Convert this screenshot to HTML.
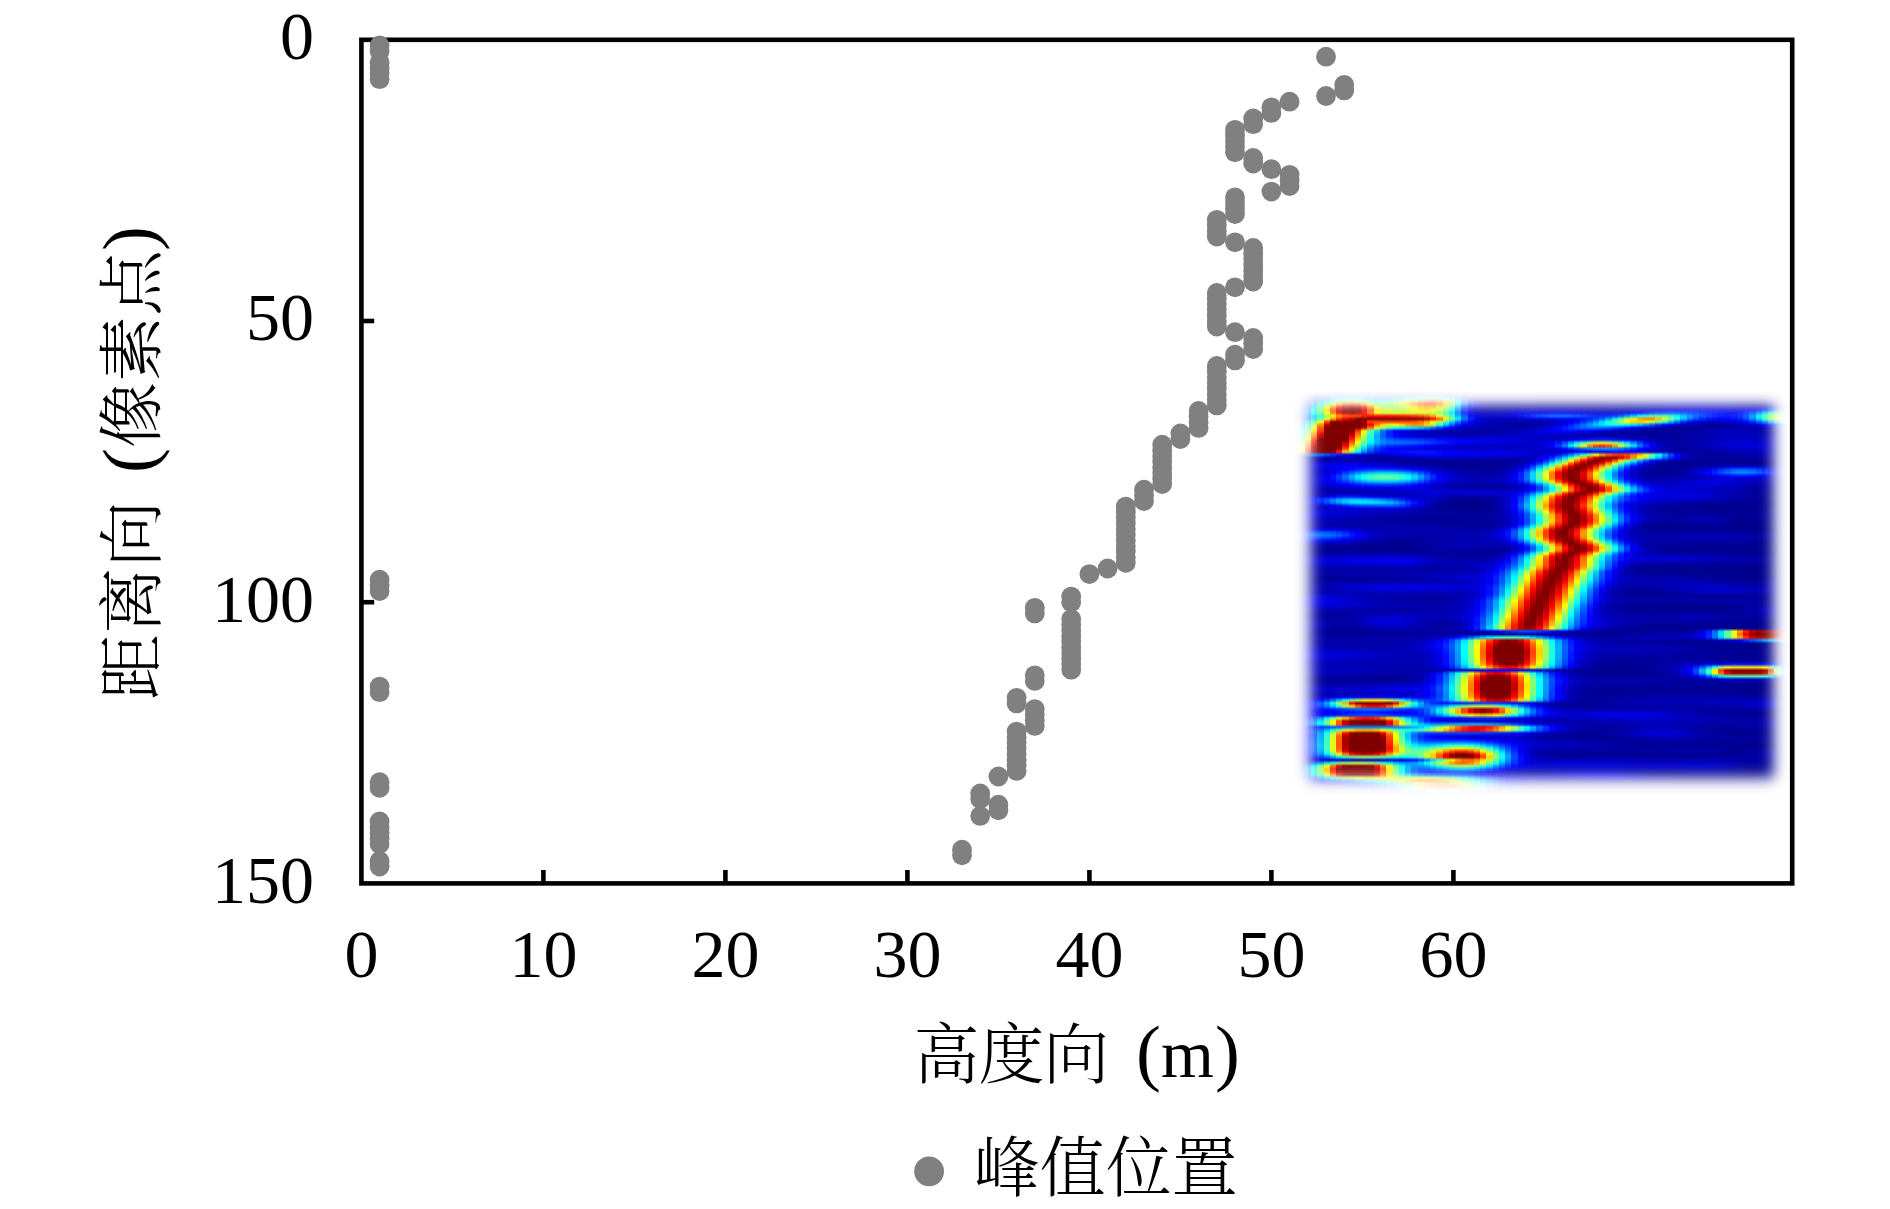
<!DOCTYPE html>
<html lang="zh"><head><meta charset="utf-8"><title>峰值位置</title>
<style>
html,body{margin:0;padding:0;background:#fff}
body{width:1890px;height:1209px;position:relative;overflow:hidden}
svg{position:absolute;left:0;top:0;display:block}
.num{font-family:"Liberation Serif",serif;font-size:68px;fill:#000}
.cjk{font-family:"Liberation Serif","Noto Serif CJK SC",serif;font-size:66px;font-weight:300;fill:#000}
#inset{position:absolute;overflow:hidden}#inset i,#inset b{position:absolute;display:block}#inset i{top:1px;height:404px}
</style></head><body>
<div id="inset" style="left:1293px;top:391px;width:497px;height:405px">
<i style="left:0px;width:12px;background:linear-gradient(#0000a2,#0000be,#0000d0,#0000e6,#0006ff,#002aff,#004eff,#005dff,#0049ff,#003cff,#006fff,#00a1ff,#00ceff,#00edff,#15ffea,#3fffc0,#6dff92,#a1ff5e,#ceff31,#f8ff07,#ffca00,#0048ff,#000099,#0000a1,#0000bc,#0000c8,#0000b8,#0000b4,#0000bb,#0000be,#0000bf,#0000c1,#0000b9,#0000a6,#00009e,#0000b5,#0000da,#0000d4,#0000b0,#0000b1,#0000d7,#0000d8,#0000cb,#0000c5,#0000b5,#0000ac,#0000cb,#0016ff,#0039ff,#0017ff,#0000da,#0000a6,#000090,#000090,#000099,#0000ad,#0000c1,#0000c5,#0000b6,#0000a4,#00009f,#00009e,#000095,#000094,#00009f,#0000a5,#00009d,#00009e,#0000be,#0000d0,#0000d9,#0000dd,#0000c6,#0000ab,#00009b,#00009a,#0000a9,#0000ba,#0000bc,#0000b7,#0000a9,#00009a,#0000a4,#0000ad,#0000af,#0000bb,#0000ca,#0000d8,#0000dd,#0000d6,#0000c5,#0000b7,#0000b6,#0000bb,#0000bb,#0000aa,#000097,#000098,#0000ab,#0000c1,#0000bb,#0000a6,#0000a8,#0000c6,#0000e9,#0000f4,#0000e7,#0000d7,#0000ce,#0000ed,#000aff,#0020ff,#0000f9,#0003ff,#0000f3,#0000ed,#0000f6,#0003ff,#0009ff,#0004ff,#0000fd,#0000ed,#0000df,#0000b9,#0000f8,#003cff,#0054ff,#0039ff,#0024ff,#0000fe,#0000dd,#0000bb,#0000b6,#0000ba,#0000c0,#0000bb)"></i>
<i style="left:12px;width:6px;background:linear-gradient(#0000a8,#0000cb,#0000e9,#0010ff,#0042ff,#0073ff,#009aff,#00a3ff,#0082ff,#007dff,#00d1ff,#17ffe8,#4effb1,#74ff8b,#abff54,#e3ff1c,#ffe300,#ffa900,#ff7600,#ff4700,#ff1a00,#0061ff,#00009d,#0000a5,#0000c5,#0000d1,#0000bd,#0000ba,#0000c2,#0000c5,#0000c5,#0000c5,#0000bb,#0000a8,#0000a0,#0000bf,#0000ee,#0000e5,#0000b7,#0000b4,#0000db,#0000d9,#0000ca,#0000c3,#0000b3,#0000ae,#0000d6,#0032ff,#0054ff,#0023ff,#0000dd,#0000a7,#000091,#000090,#00009b,#0000b1,#0000c7,#0000ca,#0000b9,#0000a5,#0000a1,#0000a1,#000097,#000095,#0000a2,#0000a9,#0000a0,#0000a1,#0000c6,#0000d9,#0000dd,#0000de,#0000c8,#0000ab,#00009b,#00009a,#0000a9,#0000b9,#0000bc,#0000b9,#0000aa,#00009b,#0000a5,#0000ad,#0000ad,#0000b8,#0000c8,#0000d7,#0000dd,#0000d5,#0000c4,#0000b7,#0000b7,#0000bd,#0000bc,#0000ab,#000097,#000099,#0000ad,#0000c3,#0000bd,#0000a9,#0000ae,#0000d5,#0002ff,#0008ff,#0000f1,#0000df,#0000d8,#0013ff,#003bff,#0050ff,#0008ff,#001cff,#0016ff,#0012ff,#001aff,#0025ff,#002bff,#0027ff,#0020ff,#000cff,#0000f2,#0000bc,#0022ff,#008aff,#00a9ff,#008eff,#006dff,#0020ff,#0000e8,#0000c1,#0000ba,#0000bc,#0000c0,#0000bb)"></i>
<i style="left:18px;width:6px;background:linear-gradient(#0000af,#0000db,#000cff,#0049ff,#0093ff,#00d8ff,#04fffb,#02fffd,#00ceff,#00d9ff,#5cffa3,#b6ff49,#f5ff0a,#ffe200,#ffa100,#ff6300,#ff2900,#f00000,#c10000,#980000,#880000,#006bff,#0000a0,#0000a9,#0000cd,#0000da,#0000c4,#0000c1,#0000cc,#0000cf,#0000cc,#0000c9,#0000bd,#0000a9,#0000a4,#0000ce,#000bff,#0000fd,#0000c0,#0000b7,#0000de,#0000da,#0000c8,#0000c0,#0000b1,#0000b0,#0000e1,#0049ff,#006aff,#002cff,#0000df,#0000a7,#000091,#000091,#00009d,#0000b5,#0000cc,#0000ce,#0000bb,#0000a7,#0000a3,#0000a4,#000099,#000096,#0000a5,#0000ae,#0000a4,#0000a5,#0000cd,#0000df,#0000df,#0000df,#0000c8,#0000ab,#00009c,#00009b,#0000a7,#0000b6,#0000b9,#0000b6,#0000a8,#00009b,#0000a5,#0000ad,#0000ab,#0000b5,#0000c6,#0000d7,#0000dc,#0000d4,#0000c3,#0000b7,#0000b8,#0000be,#0000bc,#0000aa,#000098,#00009a,#0000af,#0000c6,#0000bf,#0000ab,#0000b5,#0000ea,#0024ff,#0022ff,#0000fc,#0000e6,#0000e2,#0048ff,#0084ff,#0096ff,#0018ff,#0041ff,#004dff,#004dff,#0054ff,#005dff,#0064ff,#0062ff,#0059ff,#003cff,#000fff,#0000be,#0057ff,#00f1ff,#1affe5,#01fffe,#00d3ff,#0050ff,#0000f6,#0000c8,#0000be,#0000bd,#0000c0,#0000bb)"></i>
<i style="left:24px;width:7px;background:linear-gradient(#0000b8,#0000f0,#0036ff,#0091ff,#00faff,#57ffa8,#87ff78,#77ff88,#2dffd2,#51ffae,#fff600,#ff8600,#ff4600,#ff2b00,#ea0000,#b00000,#800000,#800000,#800000,#800000,#800000,#0066ff,#0000a4,#0000ab,#0000d5,#0000e3,#0000cc,#0000cc,#0000da,#0000dd,#0000d6,#0000ce,#0000be,#0000aa,#0000a8,#0000df,#002eff,#001eff,#0000cd,#0000b9,#0000e0,#0000d9,#0000c4,#0000bc,#0000af,#0000b0,#0000e7,#0057ff,#0077ff,#002fff,#0000df,#0000a7,#000091,#000091,#00009f,#0000ba,#0000d2,#0000d3,#0000bd,#0000a7,#0000a5,#0000a6,#00009a,#000097,#0000a8,#0000b2,#0000a9,#0000a8,#0000d1,#0000e1,#0000df,#0000df,#0000c7,#0000ab,#00009c,#00009b,#0000a5,#0000b1,#0000b2,#0000af,#0000a4,#00009a,#0000a6,#0000ad,#0000a9,#0000b2,#0000c4,#0000d5,#0000db,#0000d2,#0000c2,#0000b7,#0000b8,#0000be,#0000bc,#0000aa,#000098,#00009a,#0000b1,#0000c8,#0000c1,#0000ae,#0000bd,#0009ff,#0059ff,#0048ff,#0008ff,#0000ee,#0000ee,#0092ff,#00e8ff,#00f6ff,#002bff,#0076ff,#00a2ff,#00acff,#00b1ff,#00b8ff,#00c0ff,#00beff,#00b3ff,#0086ff,#0036ff,#0000bf,#0098ff,#72ff8d,#a4ff5b,#8fff70,#53ffac,#008dff,#0008ff,#0000d1,#0000c2,#0000be,#0000bf,#0000ba)"></i>
<i style="left:31px;width:6px;background:linear-gradient(#0000c3,#0008ff,#0066ff,#00e2ff,#71ff8e,#e8ff17,#ffe200,#fcff03,#97ff68,#d9ff26,#ff3600,#b70000,#810000,#800000,#800000,#800000,#800000,#800000,#800000,#800000,#800000,#0053ff,#0000a9,#0000ae,#0000db,#0000ec,#0000d5,#0000db,#0000ef,#0000f1,#0000e4,#0000d4,#0000c1,#0000ac,#0000ad,#0000f3,#0058ff,#0046ff,#0000de,#0000bc,#0000e1,#0000d7,#0000c0,#0000b8,#0000ad,#0000b0,#0000e9,#005aff,#0077ff,#002dff,#0000dc,#0000a7,#000091,#000092,#0000a1,#0000be,#0000d7,#0000d6,#0000bf,#0000a8,#0000a6,#0000a8,#00009a,#000098,#0000ab,#0000b8,#0000ae,#0000ac,#0000d2,#0000df,#0000de,#0000dd,#0000c6,#0000aa,#00009c,#00009c,#0000a3,#0000ac,#0000ab,#0000a7,#00009e,#000099,#0000a6,#0000ac,#0000a7,#0000af,#0000c2,#0000d4,#0000d9,#0000d0,#0000c0,#0000b6,#0000b9,#0000be,#0000bb,#0000a9,#000098,#00009b,#0000b2,#0000c9,#0000c3,#0000b1,#0000c5,#0034ff,#00a7ff,#007fff,#0015ff,#0000f5,#0000fc,#00efff,#6bff94,#73ff8c,#003fff,#00bfff,#1cffe3,#34ffcb,#39ffc6,#3effc1,#44ffbb,#43ffbc,#34ffcb,#00f0ff,#006aff,#0000c0,#00dfff,#fffc00,#ffbe00,#ffce00,#e4ff1b,#00d4ff,#001cff,#0000da,#0000c6,#0000bf,#0000be,#0000b9)"></i>
<i style="left:37px;width:6px;background:linear-gradient(#0000cd,#001fff,#0097ff,#36ffc9,#e9ff16,#ff8200,#ff4a00,#ff7b00,#fffc00,#ff9d00,#800000,#800000,#800000,#800000,#800000,#800000,#800000,#800000,#800000,#800000,#8b0000,#0037ff,#0000b0,#0000af,#0000e0,#0000f4,#0000e1,#0000f1,#000fff,#0010ff,#0000f8,#0000dd,#0000c3,#0000ad,#0000b0,#0005ff,#0083ff,#0073ff,#0000f1,#0000c0,#0000e0,#0000d5,#0000bc,#0000b4,#0000aa,#0000b0,#0000e7,#0051ff,#006cff,#0024ff,#0000d8,#0000a5,#000091,#000093,#0000a3,#0000c1,#0000db,#0000da,#0000c0,#0000a8,#0000a7,#0000a9,#00009a,#000099,#0000ae,#0000bd,#0000b3,#0000ae,#0000cf,#0000da,#0000db,#0000db,#0000c4,#0000a9,#00009d,#00009d,#0000a2,#0000a8,#0000a5,#0000a0,#000099,#000098,#0000a6,#0000ac,#0000a6,#0000ad,#0000bf,#0000d2,#0000d7,#0000cd,#0000bf,#0000b6,#0000b9,#0000be,#0000ba,#0000a9,#000098,#00009c,#0000b3,#0000cb,#0000c4,#0000b4,#0000cf,#006eff,#17ffe8,#00ccff,#0024ff,#0000fd,#000bff,#5dffa2,#fffb00,#fffa00,#0054ff,#1affe5,#b3ff4c,#deff21,#e4ff1b,#e7ff18,#ecff13,#eaff15,#d5ff2a,#76ff89,#00aaff,#0000bf,#28ffd7,#ff6b00,#ff2000,#ff2c00,#ff8600,#20ffdf,#0033ff,#0000e5,#0000ca,#0000c0,#0000bd,#0000b7)"></i>
<i style="left:43px;width:6px;background:linear-gradient(#0000d6,#0034ff,#00c1ff,#7eff81,#ffac00,#ff0100,#c40000,#ff0600,#ff9f00,#ff2f00,#800000,#800000,#800000,#800000,#800000,#800000,#800000,#800000,#800000,#9f0000,#ff1d00,#0018ff,#0000b8,#0000b1,#0000e2,#0000f9,#0000ef,#000fff,#0039ff,#0039ff,#0013ff,#0000e8,#0000c7,#0000af,#0000b3,#0012ff,#00a8ff,#009eff,#0008ff,#0000c3,#0000df,#0000d1,#0000b8,#0000b0,#0000a8,#0000af,#0000e0,#003fff,#0057ff,#0016ff,#0000d1,#0000a3,#000091,#000093,#0000a5,#0000c5,#0000df,#0000dc,#0000c1,#0000a8,#0000a7,#0000a9,#00009a,#00009a,#0000b1,#0000c2,#0000b9,#0000b1,#0000cb,#0000d2,#0000d6,#0000d7,#0000c1,#0000a8,#00009e,#0000a0,#0000a3,#0000a6,#0000a2,#00009c,#000097,#000097,#0000a7,#0000ac,#0000a5,#0000ac,#0000be,#0000d1,#0000d5,#0000cb,#0000bd,#0000b5,#0000b8,#0000bd,#0000b9,#0000a7,#000097,#00009c,#0000b4,#0000cb,#0000c5,#0000b7,#0000d9,#00b7ff,#a6ff59,#32ffcd,#0034ff,#0005ff,#001aff,#d2ff2d,#ff5700,#ff5e00,#0066ff,#7bff84,#ffa500,#ff6500,#ff5c00,#ff5b00,#ff5a00,#ff5d00,#ff7800,#fff700,#00efff,#0000bc,#69ff96,#e70000,#910000,#990000,#ff0100,#68ff97,#004dff,#0000f1,#0000cf,#0000c1,#0000bc,#0000b5)"></i>
<i style="left:49px;width:7px;background:linear-gradient(#0000dc,#0041ff,#00deff,#b0ff4f,#ff6300,#a70000,#800000,#b50000,#ff5e00,#f20000,#800000,#800000,#800000,#800000,#800000,#800000,#830000,#ba0000,#fe0000,#ff4d00,#ffcc00,#0000f9,#0000be,#0000b1,#0000e3,#0000fe,#0000ff,#0034ff,#006eff,#006bff,#0033ff,#0000f6,#0000cb,#0000b1,#0000b4,#0018ff,#00c2ff,#00c4ff,#001dff,#0000c7,#0000dc,#0000cd,#0000b4,#0000ad,#0000a7,#0000ae,#0000d7,#0026ff,#003bff,#0005ff,#0000c9,#0000a1,#000091,#000093,#0000a6,#0000c7,#0000e2,#0000de,#0000c1,#0000a7,#0000a7,#0000aa,#00009a,#00009b,#0000b4,#0000c8,#0000be,#0000b4,#0000c6,#0000ca,#0000d1,#0000d3,#0000be,#0000a7,#0000a0,#0000a3,#0000a6,#0000a7,#0000a1,#00009a,#000096,#000097,#0000a7,#0000ac,#0000a4,#0000aa,#0000bc,#0000cf,#0000d3,#0000c9,#0000bc,#0000b5,#0000b8,#0000bc,#0000b7,#0000a6,#000097,#00009d,#0000b5,#0000cc,#0000c5,#0000b9,#0000e3,#0dfff2,#ffb000,#a9ff56,#0047ff,#000cff,#002aff,#ffbe00,#bb0000,#c80000,#0073ff,#d5ff2a,#ff0b00,#b60000,#aa0000,#ab0000,#ac0000,#b10000,#d20000,#ff7000,#30ffcf,#0000ba,#99ff66,#850000,#800000,#800000,#990000,#a6ff59,#0069ff,#0000fe,#0000d4,#0000c3,#0000bb,#0000b3)"></i>
<i style="left:56px;width:6px;background:linear-gradient(#0000dd,#0046ff,#00e8ff,#c2ff3d,#ff4900,#870000,#800000,#990000,#ff4600,#bf0000,#800000,#800000,#800000,#880000,#ba0000,#f00000,#ff2900,#ff6400,#ffb200,#f8ff07,#86ff79,#0000e0,#0000c0,#0000b1,#0000e1,#0001ff,#0011ff,#005cff,#00a9ff,#00a3ff,#0057ff,#0007ff,#0000cf,#0000b3,#0000b4,#0018ff,#00cdff,#00deff,#002fff,#0000ca,#0000d9,#0000c9,#0000b0,#0000aa,#0000a6,#0000ad,#0000cd,#000bff,#001cff,#0000f1,#0000c0,#00009e,#000090,#000094,#0000a7,#0000c9,#0000e4,#0000e0,#0000c1,#0000a7,#0000a7,#0000aa,#00009a,#00009b,#0000b7,#0000cd,#0000c4,#0000b6,#0000c1,#0000c3,#0000cc,#0000cf,#0000bb,#0000a6,#0000a2,#0000a9,#0000ad,#0000ac,#0000a4,#00009c,#000096,#000098,#0000a7,#0000ac,#0000a4,#0000aa,#0000ba,#0000cc,#0000d0,#0000c6,#0000ba,#0000b4,#0000b7,#0000bb,#0000b6,#0000a5,#000097,#00009d,#0000b6,#0000cc,#0000c6,#0000bb,#0000ed,#65ff9a,#ff0200,#ffd900,#0058ff,#0013ff,#0038ff,#ff6300,#800000,#800000,#007cff,#ffe400,#930000,#800000,#800000,#800000,#800000,#800000,#800000,#ff0800,#60ff9f,#0000b7,#b6ff49,#800000,#800000,#800000,#800000,#d6ff29,#0088ff,#0010ff,#0000db,#0000c6,#0000bb,#0000b1)"></i>
<i style="left:62px;width:6px;background:linear-gradient(#0000db,#0040ff,#00deff,#b1ff4e,#ff6200,#a60000,#800000,#b50000,#ff3e00,#800000,#800000,#800000,#800000,#ff3700,#ff6f00,#ffa500,#ffd800,#f1ff0e,#a2ff5d,#50ffaf,#00f4ff,#0000cc,#0000bc,#0000ae,#0000dc,#0001ff,#0022ff,#0084ff,#00e4ff,#00dbff,#007aff,#0016ff,#0000d4,#0000b6,#0000b3,#0012ff,#00ccff,#00ebff,#003dff,#0000cd,#0000d5,#0000c4,#0000ac,#0000a8,#0000a5,#0000ac,#0000c4,#0000f0,#0000fe,#0000de,#0000b8,#00009b,#000090,#000094,#0000a7,#0000ca,#0000e6,#0000e0,#0000c1,#0000a6,#0000a6,#0000aa,#000099,#00009c,#0000ba,#0000d3,#0000ca,#0000b8,#0000bc,#0000bc,#0000c7,#0000ca,#0000b8,#0000a5,#0000a4,#0000af,#0000b5,#0000b4,#0000aa,#00009f,#000098,#000098,#0000a7,#0000ac,#0000a4,#0000a9,#0000b9,#0000ca,#0000cd,#0000c4,#0000b9,#0000b4,#0000b6,#0000b9,#0000b3,#0000a3,#000096,#00009d,#0000b7,#0000cd,#0000c7,#0000bd,#0000f6,#b2ff4d,#800000,#ff6900,#0067ff,#0018ff,#0043ff,#ff2700,#800000,#800000,#007fff,#ffbb00,#800000,#800000,#800000,#800000,#800000,#800000,#800000,#cb0000,#7eff81,#0000b5,#beff41,#800000,#800000,#800000,#800000,#f8ff07,#00abff,#0023ff,#0000e4,#0000cb,#0000bb,#0000af)"></i>
<i style="left:68px;width:6px;background:linear-gradient(#0000d4,#0031ff,#00c2ff,#81ff7e,#ffa900,#ff0000,#c40000,#ff0600,#ff1600,#800000,#a80000,#800000,#d50000,#fff300,#d8ff27,#aaff55,#89ff76,#62ff9d,#15ffea,#00caff,#0089ff,#0000be,#0000b4,#0000ab,#0000d7,#0000fd,#002fff,#00a7ff,#19ffe6,#0efff1,#0099ff,#0024ff,#0000d9,#0000b9,#0000b2,#0008ff,#00bfff,#00eeff,#0048ff,#0000cf,#0000d1,#0000c0,#0000a9,#0000a6,#0000a5,#0000ab,#0000bd,#0000db,#0000e4,#0000ce,#0000b0,#000098,#00008f,#000094,#0000a8,#0000cb,#0000e6,#0000e1,#0000c1,#0000a5,#0000a6,#0000aa,#000099,#00009d,#0000bd,#0000d7,#0000cf,#0000ba,#0000b8,#0000b7,#0000c2,#0000c5,#0000b5,#0000a5,#0000a7,#0000b7,#0000bf,#0000be,#0000b2,#0000a4,#00009a,#000099,#0000a7,#0000ac,#0000a5,#0000a9,#0000b7,#0000c7,#0000ca,#0000c2,#0000b9,#0000b4,#0000b5,#0000b7,#0000b1,#0000a2,#000096,#00009e,#0000b8,#0000cf,#0000c8,#0000bf,#0000fc,#ebff14,#800000,#ff1700,#0071ff,#001bff,#0049ff,#ff0e00,#800000,#800000,#007fff,#ffae00,#800000,#800000,#800000,#800000,#800000,#800000,#800000,#b80000,#89ff76,#0000b4,#b5ff4a,#800000,#800000,#800000,#800000,#ffee00,#00d2ff,#003aff,#0000f1,#0000d4,#0000be,#0000ae)"></i>
<i style="left:74px;width:7px;background:linear-gradient(#0000ca,#001bff,#009aff,#3cffc3,#eeff11,#ff8200,#ff4b00,#ff7a00,#ff0200,#800000,#ff4500,#f60000,#ff7400,#5effa1,#37ffc8,#18ffe7,#0dfff2,#00f7ff,#00aeff,#006dff,#0042ff,#0000b7,#0000ac,#0000a7,#0000cf,#0000f8,#0037ff,#00c2ff,#3fffc0,#32ffcd,#00b1ff,#002eff,#0000dd,#0000bc,#0000b1,#0000fb,#00adff,#00eaff,#004fff,#0000d1,#0000cd,#0000bb,#0000a6,#0000a5,#0000a5,#0000ab,#0000b8,#0000ca,#0000d0,#0000c0,#0000a9,#000096,#00008f,#000094,#0000a8,#0000cb,#0000e7,#0000e1,#0000c1,#0000a5,#0000a6,#0000ab,#00009a,#00009e,#0000bf,#0000db,#0000d3,#0000bc,#0000b4,#0000b2,#0000be,#0000c1,#0000b2,#0000a5,#0000aa,#0000be,#0000ca,#0000c9,#0000ba,#0000a9,#00009d,#00009a,#0000a7,#0000ac,#0000a6,#0000aa,#0000b6,#0000c4,#0000c7,#0000c0,#0000b8,#0000b3,#0000b4,#0000b5,#0000af,#0000a0,#000096,#00009f,#0000bb,#0000d3,#0000cb,#0000c1,#0000ff,#fff700,#800000,#ed0000,#0075ff,#001aff,#004aff,#ff1300,#800000,#800000,#007fff,#ffb100,#800000,#800000,#800000,#800000,#800000,#800000,#800000,#bd0000,#89ff76,#0000b5,#98ff67,#970000,#800000,#800000,#8e0000,#ffe500,#00feff,#0056ff,#0004ff,#0000e1,#0000c3,#0000ae)"></i>
<i style="left:81px;width:6px;background:linear-gradient(#0000bf,#0003ff,#006eff,#00f0ff,#7aff85,#e8ff17,#ffe400,#ffff00,#fa0000,#800000,#ff4900,#ff7e00,#fffc00,#00d3ff,#00b8ff,#00a8ff,#00b6ff,#00b3ff,#006cff,#0031ff,#001aff,#0000b7,#0000a5,#0000a3,#0000c7,#0000f1,#003bff,#00d1ff,#56ffa9,#48ffb7,#00beff,#0035ff,#0000e1,#0000c0,#0000b1,#0000ef,#0097ff,#00e1ff,#0055ff,#0000d3,#0000c9,#0000b7,#0000a4,#0000a3,#0000a4,#0000ab,#0000b4,#0000bf,#0000c1,#0000b5,#0000a3,#000094,#00008e,#000094,#0000a8,#0000cc,#0000e9,#0000e4,#0000c2,#0000a5,#0000a7,#0000ac,#00009a,#00009e,#0000c1,#0000df,#0000d6,#0000be,#0000b1,#0000ae,#0000ba,#0000bd,#0000b0,#0000a4,#0000ad,#0000c5,#0000d3,#0000d2,#0000c2,#0000af,#0000a0,#00009b,#0000a7,#0000ab,#0000a6,#0000aa,#0000b4,#0000c1,#0000c4,#0000be,#0000b7,#0000b3,#0000b3,#0000b3,#0000ac,#00009e,#000096,#0000a0,#0000bf,#0000d8,#0000ce,#0000c2,#0001ff,#fff600,#800000,#eb0000,#0072ff,#0016ff,#0045ff,#ff3700,#800000,#800000,#0080ff,#ffcc00,#840000,#800000,#800000,#800000,#800000,#800000,#800000,#e70000,#79ff86,#0000b8,#68ff97,#ff0300,#b20000,#b80000,#ed0000,#ffe900,#2dffd2,#0077ff,#001eff,#0000f4,#0000cb,#0000af)"></i>
<i style="left:87px;width:6px;background:linear-gradient(#0000b4,#0000ec,#0059ff,#0ffff0,#94ff6b,#abff54,#cbff34,#d3ff2c,#fb0000,#800000,#ff4500,#ffe200,#9bff64,#006eff,#005eff,#005cff,#0081ff,#008dff,#0045ff,#000eff,#0008ff,#0000bd,#0000a2,#0000a0,#0000bf,#0000e9,#003aff,#00d6ff,#5effa1,#4fffb0,#00c3ff,#0038ff,#0000e4,#0000c5,#0000b1,#0000e2,#0080ff,#00d5ff,#0059ff,#0000d5,#0000c5,#0000b3,#0000a1,#0000a2,#0000a4,#0000ac,#0000b2,#0000b7,#0000b7,#0000ad,#00009f,#000092,#00008e,#000094,#0000a8,#0000cd,#0000ec,#0000e7,#0000c4,#0000a6,#0000a7,#0000ad,#00009b,#00009f,#0000c3,#0000e1,#0000d9,#0000be,#0000af,#0000ab,#0000b6,#0000b9,#0000ae,#0000a5,#0000b0,#0000ca,#0000d9,#0000da,#0000c9,#0000b3,#0000a2,#00009c,#0000a6,#0000ab,#0000a8,#0000ab,#0000b3,#0000bd,#0000c0,#0000bc,#0000b7,#0000b3,#0000b2,#0000b1,#0000aa,#00009d,#000096,#0000a2,#0000c4,#0000de,#0000d2,#0000c4,#0000fe,#eeff11,#800000,#ff1000,#006aff,#0010ff,#003cff,#ff7d00,#800000,#800000,#0080ff,#fdff02,#f20000,#9f0000,#8f0000,#880000,#800000,#800000,#970000,#ff3900,#5bffa4,#0000bd,#2dffd2,#ff8800,#ff4800,#ff4f00,#ff6800,#fff700,#60ff9f,#009fff,#0042ff,#0011ff,#0000d8,#0000b1)"></i>
<i style="left:93px;width:7px;background:linear-gradient(#0000ab,#0000dd,#006eff,#32ffcd,#aaff55,#a3ff5c,#c2ff3d,#d9ff26,#ff0100,#800000,#ff4500,#e1ff1e,#53ffac,#002bff,#0024ff,#002bff,#0062ff,#007bff,#0030ff,#0000fa,#0004ff,#0000c8,#0000a2,#00009d,#0000b8,#0000e1,#0036ff,#00d4ff,#5dffa2,#4effb1,#00c2ff,#0037ff,#0000e5,#0000c9,#0000b2,#0000d6,#0064ff,#00c0ff,#0057ff,#0000d6,#0000c1,#0000af,#00009f,#0000a1,#0000a4,#0000ac,#0000b1,#0000b3,#0000b0,#0000a7,#00009c,#000091,#00008e,#000094,#0000a8,#0000ce,#0000ee,#0000ea,#0000c7,#0000a7,#0000a8,#0000ae,#00009d,#0000a0,#0000c4,#0000e3,#0000da,#0000be,#0000ac,#0000a8,#0000b2,#0000b5,#0000ac,#0000a5,#0000b2,#0000cd,#0000dc,#0000dc,#0000cc,#0000b6,#0000a4,#00009d,#0000a6,#0000ab,#0000a9,#0000ac,#0000b1,#0000ba,#0000bd,#0000ba,#0000b6,#0000b3,#0000b1,#0000ae,#0000a8,#00009c,#000096,#0000a3,#0000c8,#0000e4,#0000d6,#0000c5,#0000f9,#b8ff47,#800000,#ff5e00,#005cff,#0008ff,#002fff,#ffde00,#ee0000,#ec0000,#0081ff,#b8ff47,#ff8800,#ff4900,#ff3a00,#ff2d00,#ff1b00,#ff0d00,#ff1f00,#ffa300,#34ffcb,#0000c3,#00f0ff,#e9ff16,#ffe700,#ffee00,#ffea00,#f6ff09,#94ff6b,#00cfff,#0072ff,#0037ff,#0000e8,#0000b5)"></i>
<i style="left:100px;width:6px;background:linear-gradient(#0000a5,#0000e4,#0089ff,#5dffa2,#c4ff3b,#a0ff5f,#b9ff46,#d7ff28,#ff0800,#800000,#ff4600,#faff05,#24ffdb,#0002ff,#0000fd,#000cff,#0052ff,#0075ff,#0025ff,#0000ef,#0007ff,#0000d6,#0000a5,#00009b,#0000b1,#0000d8,#002fff,#00ccff,#52ffad,#43ffbc,#00baff,#0034ff,#0000e6,#0000ce,#0000b3,#0000cb,#0045ff,#00a0ff,#004dff,#0000d5,#0000be,#0000ab,#00009d,#0000a0,#0000a4,#0000ac,#0000b1,#0000b1,#0000ac,#0000a3,#000099,#000091,#00008f,#000094,#0000a8,#0000ce,#0000f0,#0000ed,#0000c9,#0000a8,#0000a9,#0000b0,#00009f,#0000a2,#0000c5,#0000e3,#0000db,#0000be,#0000aa,#0000a6,#0000af,#0000b2,#0000ab,#0000a5,#0000b3,#0000cd,#0000da,#0000db,#0000cb,#0000b6,#0000a4,#00009d,#0000a6,#0000ac,#0000ac,#0000af,#0000b1,#0000b8,#0000ba,#0000b7,#0000b5,#0000b2,#0000af,#0000ac,#0000a6,#00009b,#000096,#0000a5,#0000cc,#0000e9,#0000d9,#0000c6,#0000f3,#6cff93,#eb0000,#ffcd00,#004bff,#0002ff,#0022ff,#b0ff4f,#ff9000,#ff8100,#0084ff,#74ff8b,#d5ff2a,#fbff04,#fff400,#ffe100,#ffc200,#ffa800,#ffae00,#edff12,#0ffff0,#0000cc,#00bcff,#66ff99,#81ff7e,#79ff86,#98ff67,#e7ff18,#c9ff36,#07fff8,#00b1ff,#0069ff,#0000fe,#0000ba)"></i>
<i style="left:106px;width:6px;background:linear-gradient(#0000a2,#0000ef,#00aeff,#95ff6a,#eeff11,#b3ff4c,#beff41,#d4ff2b,#ff1000,#800000,#ff4600,#ffda00,#07fff8,#0000e7,#0000e5,#0000f7,#0049ff,#0072ff,#001dff,#0000e8,#000eff,#0000e6,#0000a9,#00009a,#0000ab,#0000d0,#0025ff,#00baff,#37ffc8,#2affd5,#00a9ff,#002cff,#0000e4,#0000d2,#0000b7,#0000c2,#0024ff,#0077ff,#003aff,#0000d1,#0000ba,#0000a8,#00009c,#00009f,#0000a3,#0000ac,#0000b1,#0000b0,#0000a9,#0000a1,#000098,#000091,#00008f,#000094,#0000a7,#0000cc,#0000ee,#0000ec,#0000c9,#0000a8,#0000aa,#0000b1,#0000a1,#0000a3,#0000c5,#0000e3,#0000da,#0000bd,#0000a8,#0000a4,#0000ac,#0000b0,#0000aa,#0000a6,#0000b4,#0000cc,#0000d4,#0000d5,#0000c7,#0000b5,#0000a5,#00009e,#0000a6,#0000ad,#0000b0,#0000b3,#0000b3,#0000b6,#0000b7,#0000b6,#0000b5,#0000b2,#0000ae,#0000a9,#0000a5,#00009c,#000098,#0000a7,#0000cd,#0000eb,#0000db,#0000c7,#0000ec,#16ffe9,#ff9f00,#b4ff4b,#003bff,#0000ff,#0017ff,#3fffc0,#cdff32,#ecff13,#008bff,#40ffbf,#42ffbd,#4fffb0,#5effa1,#79ff86,#a5ff5a,#cdff32,#d6ff29,#95ff6a,#00faff,#0000d9,#009aff,#00fcff,#05fffa,#00f8ff,#30ffcf,#dcff23,#fcff03,#44ffbb,#00feff,#00a6ff,#001aff,#0000c2)"></i>
<i style="left:112px;width:6px;background:linear-gradient(#0000a4,#0000fd,#00dcff,#dbff24,#ffd400,#dfff20,#d6ff29,#d5ff2a,#ff1900,#800000,#ff4700,#ffac00,#00f2ff,#0000d7,#0000d6,#0000e9,#0042ff,#006dff,#0017ff,#0000e4,#0014ff,#0000f4,#0000ad,#000099,#0000a5,#0000c7,#0016ff,#009dff,#0efff1,#02fffd,#008fff,#001fff,#0000e0,#0000d6,#0000bd,#0000bf,#0005ff,#0048ff,#001eff,#0000c9,#0000b5,#0000a5,#00009b,#00009e,#0000a2,#0000ab,#0000b1,#0000af,#0000a8,#00009f,#000098,#000093,#000091,#000094,#0000a5,#0000c7,#0000e8,#0000e8,#0000c6,#0000a7,#0000aa,#0000b3,#0000a4,#0000a5,#0000c5,#0000e3,#0000d9,#0000bc,#0000a6,#0000a2,#0000aa,#0000ad,#0000aa,#0000a7,#0000b4,#0000c8,#0000cc,#0000cb,#0000c0,#0000b1,#0000a4,#00009e,#0000a6,#0000b0,#0000b6,#0000b9,#0000b6,#0000b6,#0000b6,#0000b4,#0000b4,#0000b2,#0000ad,#0000a7,#0000a7,#00009f,#00009c,#0000aa,#0000ce,#0000ea,#0000dc,#0000c9,#0000e7,#00c2ff,#b0ff4f,#3dffc2,#0030ff,#0003ff,#0011ff,#00d7ff,#3bffc4,#6eff91,#0099ff,#26ffd9,#00ceff,#00c4ff,#00d5ff,#00f8ff,#32ffcd,#6aff95,#85ff7a,#63ff9c,#00ffff,#0000ed,#0090ff,#00b6ff,#00a9ff,#0098ff,#00dfff,#d6ff29,#ffd300,#85ff7a,#57ffa8,#00ecff,#003aff,#0000cc)"></i>
<i style="left:118px;width:7px;background:linear-gradient(#0000a6,#000eff,#10ffef,#ffd500,#ff8f00,#ffe900,#f5ff0a,#d9ff26,#ff2800,#800000,#ff5300,#ff9000,#00e2ff,#0000cc,#0000ca,#0000df,#003bff,#0065ff,#000eff,#0000df,#0019ff,#0000ff,#0000b2,#000099,#0000a1,#0000be,#0003ff,#0077ff,#00d6ff,#00cdff,#006dff,#000dff,#0000da,#0000d9,#0000c5,#0000c0,#0000eb,#0018ff,#0000fb,#0000be,#0000b1,#0000a3,#000099,#00009c,#0000a1,#0000aa,#0000b1,#0000af,#0000a7,#00009f,#00009a,#000095,#000093,#000095,#0000a3,#0000c1,#0000de,#0000df,#0000c2,#0000a5,#0000aa,#0000b5,#0000a8,#0000a7,#0000c5,#0000e2,#0000d7,#0000bb,#0000a5,#0000a1,#0000a8,#0000ac,#0000aa,#0000a8,#0000b4,#0000c4,#0000c2,#0000c0,#0000b8,#0000ad,#0000a3,#00009e,#0000a8,#0000b5,#0000be,#0000c3,#0000bd,#0000b9,#0000b6,#0000b5,#0000b5,#0000b3,#0000ae,#0000a5,#0000ab,#0000a5,#0000a3,#0000b0,#0000d1,#0000eb,#0000de,#0000ce,#0000e5,#007dff,#1affe5,#00daff,#0030ff,#000fff,#0012ff,#0084ff,#00c2ff,#0cfff3,#00b0ff,#2affd5,#0081ff,#0064ff,#0077ff,#00a3ff,#00eaff,#35ffca,#64ff9b,#5effa1,#23ffdc,#000dff,#00a0ff,#0093ff,#0070ff,#0057ff,#00a8ff,#d3ff2c,#ffac00,#c7ff38,#b6ff49,#39ffc6,#005cff,#0000d6)"></i>
<i style="left:125px;width:6px;background:linear-gradient(#0000a7,#001dff,#3effc1,#ff8e00,#ff5200,#ffba00,#ffef00,#daff25,#ff4000,#800000,#ff7100,#ff9b00,#00c6ff,#0000c3,#0000c2,#0000d7,#0032ff,#0059ff,#0004ff,#0000db,#001bff,#0007ff,#0000b5,#000099,#00009d,#0000b5,#0000ee,#004dff,#009aff,#0093ff,#0047ff,#0000f9,#0000d2,#0000db,#0000cf,#0000c5,#0000d8,#0000ed,#0000da,#0000b2,#0000ac,#0000a1,#000098,#00009b,#0000a0,#0000a9,#0000b0,#0000af,#0000a7,#00009f,#00009c,#000099,#000096,#000096,#0000a0,#0000b9,#0000d2,#0000d4,#0000bb,#0000a3,#0000aa,#0000b6,#0000ad,#0000a9,#0000c5,#0000e0,#0000d5,#0000b9,#0000a4,#0000a0,#0000a7,#0000ab,#0000aa,#0000a9,#0000b4,#0000bf,#0000b8,#0000b5,#0000b0,#0000a9,#0000a2,#00009e,#0000ab,#0000bd,#0000c9,#0000cf,#0000c6,#0000be,#0000b9,#0000b8,#0000b9,#0000b7,#0000b0,#0000a4,#0000b5,#0000b2,#0000b1,#0000bc,#0000d8,#0000f0,#0000e6,#0000d9,#0000ea,#004eff,#00a7ff,#0098ff,#003fff,#0028ff,#001cff,#0045ff,#0067ff,#00c7ff,#00d3ff,#46ffb9,#0055ff,#0028ff,#003fff,#0074ff,#00caff,#28ffd7,#6eff91,#84ff7b,#65ff9a,#003cff,#00ccff,#0093ff,#0057ff,#0031ff,#0086ff,#d0ff2f,#ff9000,#fffa00,#ffeb00,#83ff7c,#007bff,#0000e0)"></i>
<i style="left:131px;width:6px;background:linear-gradient(#0000a8,#0026ff,#5fffa0,#ff5f00,#ff2d00,#ffa200,#ffe700,#d2ff2d,#ff6700,#a90000,#ffa800,#ffda00,#009eff,#0000bc,#0000bb,#0000d1,#0028ff,#004aff,#0000f8,#0000d6,#0018ff,#0009ff,#0000b7,#000099,#00009a,#0000ad,#0000da,#0024ff,#005eff,#005bff,#0022ff,#0000e5,#0000c8,#0000dc,#0000d6,#0000c8,#0000ca,#0000cc,#0000bd,#0000a6,#0000a7,#00009f,#000098,#00009a,#00009e,#0000a8,#0000af,#0000af,#0000a8,#0000a1,#0000a0,#00009e,#00009a,#000098,#00009e,#0000b2,#0000c6,#0000c8,#0000b5,#0000a2,#0000aa,#0000b8,#0000b2,#0000ab,#0000c4,#0000de,#0000d3,#0000b8,#0000a3,#0000a0,#0000a6,#0000aa,#0000ab,#0000aa,#0000b4,#0000bc,#0000b1,#0000ab,#0000a9,#0000a6,#0000a1,#00009f,#0000af,#0000c8,#0000d8,#0000de,#0000d3,#0000c8,#0000c1,#0000bf,#0000c0,#0000be,#0000b6,#0000a3,#0000c6,#0000c7,#0000c7,#0000d1,#0000ea,#0000ff,#0000f7,#0000ed,#0000f9,#0036ff,#0059ff,#0077ff,#0061ff,#0053ff,#0033ff,#001cff,#0027ff,#009fff,#05fffa,#77ff88,#003fff,#0006ff,#0021ff,#0060ff,#00c5ff,#39ffc6,#99ff66,#cbff34,#c2ff3d,#007cff,#10ffef,#00aeff,#0058ff,#0021ff,#0071ff,#c8ff37,#ff8200,#ffc700,#ff9700,#c4ff3b,#0094ff,#0000e5)"></i>
<i style="left:137px;width:6px;background:linear-gradient(#0000a8,#0028ff,#66ff99,#ff5800,#ff3000,#ffac00,#fff800,#baff45,#ffa200,#f90000,#fff900,#b9ff46,#006dff,#0000b6,#0000b5,#0000cc,#001eff,#0038ff,#0000ec,#0000d2,#0013ff,#0007ff,#0000b9,#000099,#000098,#0000a7,#0000c9,#0000fe,#002aff,#0029ff,#0001ff,#0000d3,#0000bf,#0000da,#0000d9,#0000c6,#0000be,#0000b4,#0000a8,#00009d,#0000a3,#00009d,#000098,#000099,#00009d,#0000a6,#0000ae,#0000af,#0000a9,#0000a3,#0000a5,#0000a4,#00009f,#00009a,#00009c,#0000ab,#0000bc,#0000bf,#0000b0,#0000a1,#0000ab,#0000ba,#0000b8,#0000ae,#0000c4,#0000dc,#0000d1,#0000b7,#0000a3,#0000a0,#0000a6,#0000aa,#0000ac,#0000ac,#0000b4,#0000b9,#0000ac,#0000a4,#0000a3,#0000a4,#0000a1,#00009f,#0000b5,#0000d7,#0000ea,#0000f1,#0000e5,#0000d8,#0000d0,#0000cd,#0000ce,#0000cc,#0000c2,#0000a4,#0000e3,#0000e9,#0000eb,#0000f4,#000bff,#001dff,#0017ff,#000fff,#0016ff,#0037ff,#002aff,#0075ff,#009aff,#0092ff,#0057ff,#0004ff,#0000fc,#008eff,#45ffba,#b7ff48,#0038ff,#0000f3,#0014ff,#005dff,#00d1ff,#5cffa3,#daff25,#ffd400,#ffcb00,#00d0ff,#66ff99,#00deff,#0069ff,#0020ff,#0066ff,#b9ff46,#ff8400,#ffa400,#ff5500,#f5ff0a,#00a3ff,#0000e4)"></i>
<i style="left:143px;width:7px;background:linear-gradient(#0000a6,#0020ff,#4effb1,#ff8300,#ff6600,#ffe000,#d4ff2b,#8cff73,#fff500,#ff6500,#a1ff5e,#3affc5,#0039ff,#0000b1,#0000b1,#0000c7,#0014ff,#0027ff,#0000e0,#0000ce,#000bff,#0003ff,#0000ba,#00009a,#000096,#0000a1,#0000bb,#0000e1,#0000ff,#0002ff,#0000e6,#0000c3,#0000b6,#0000d8,#0000d7,#0000be,#0000b0,#0000a4,#00009a,#000097,#0000a0,#00009c,#000098,#000098,#00009b,#0000a5,#0000ad,#0000af,#0000aa,#0000a6,#0000aa,#0000ab,#0000a5,#00009c,#00009b,#0000a6,#0000b4,#0000b8,#0000ae,#0000a1,#0000ab,#0000bb,#0000be,#0000b1,#0000c3,#0000da,#0000d0,#0000b6,#0000a3,#0000a1,#0000a7,#0000ab,#0000ad,#0000ae,#0000b5,#0000b8,#0000ab,#0000a0,#0000a0,#0000a3,#0000a0,#00009e,#0000be,#0000ee,#0003ff,#000aff,#0000fd,#0000f0,#0000e8,#0000e5,#0000e6,#0000e3,#0000d6,#0000a6,#000fff,#001eff,#0022ff,#002bff,#003eff,#004eff,#0048ff,#0042ff,#0045ff,#0051ff,#0012ff,#008dff,#00eaff,#00e7ff,#008bff,#0000f8,#0000e1,#008cff,#91ff6e,#fdff02,#0037ff,#0000e9,#000eff,#0062ff,#00e6ff,#88ff77,#ffda00,#ff6b00,#ff5100,#36ffc9,#c5ff3a,#19ffe6,#0085ff,#0027ff,#005fff,#a2ff5d,#ff9700,#ff9500,#ff2e00,#ffec00,#00a7ff,#0000df)"></i>
<i style="left:150px;width:6px;background:linear-gradient(#0000a3,#000eff,#18ffe7,#ffe100,#ffce00,#c0ff3f,#7fff80,#44ffbb,#a0ff5f,#ffea00,#36ffc9,#00c0ff,#000cff,#0000ac,#0000ae,#0000c4,#000bff,#0017ff,#0000d6,#0000ca,#0003ff,#0000fb,#0000bb,#00009b,#000095,#00009d,#0000b1,#0000cc,#0000e1,#0000e4,#0000d4,#0000b8,#0000af,#0000d4,#0000d4,#0000b4,#0000a4,#000099,#000093,#000093,#00009d,#00009b,#000098,#000098,#00009a,#0000a3,#0000ac,#0000af,#0000ab,#0000a9,#0000b0,#0000b1,#0000aa,#00009f,#00009b,#0000a2,#0000ae,#0000b4,#0000ad,#0000a2,#0000ac,#0000bd,#0000c4,#0000b4,#0000c3,#0000d8,#0000ce,#0000b6,#0000a4,#0000a3,#0000a9,#0000ad,#0000af,#0000b0,#0000b6,#0000b9,#0000af,#0000a0,#0000a0,#0000a4,#0000a0,#00009e,#0000cd,#0011ff,#0025ff,#002dff,#0022ff,#0016ff,#0010ff,#000dff,#000dff,#0008ff,#0000f5,#0000ab,#004cff,#0065ff,#006dff,#0077ff,#0087ff,#0095ff,#0090ff,#0089ff,#0088ff,#0083ff,#0009ff,#00b9ff,#51ffae,#52ffad,#00cdff,#0000f7,#0000d1,#0093ff,#e5ff1a,#ffb800,#0039ff,#0000e2,#000dff,#006aff,#00fcff,#b3ff4c,#ff9200,#ff0700,#dc0000,#a1ff5e,#ffde00,#54ffab,#00a3ff,#0031ff,#0058ff,#83ff7c,#ffba00,#ff9d00,#ff2600,#ffe700,#00a1ff,#0000d8)"></i>
<i style="left:156px;width:6px;background:linear-gradient(#00009e,#0000f4,#00caff,#9bff64,#a1ff5e,#41ffbe,#0efff1,#00e4ff,#2bffd4,#81ff7e,#00ccff,#005fff,#0000e8,#0000a9,#0000ac,#0000c2,#0004ff,#000aff,#0000cf,#0000c8,#0000fa,#0000f5,#0000bb,#00009b,#000094,#00009a,#0000a9,#0000be,#0000cd,#0000d2,#0000c7,#0000b0,#0000aa,#0000d1,#0000d1,#0000ab,#00009a,#000093,#00008f,#000091,#00009b,#00009b,#000099,#000098,#000099,#0000a1,#0000aa,#0000af,#0000ad,#0000ac,#0000b5,#0000b6,#0000ae,#0000a1,#00009a,#00009f,#0000aa,#0000b2,#0000ae,#0000a4,#0000ad,#0000bf,#0000ca,#0000b8,#0000c2,#0000d6,#0000cd,#0000b6,#0000a6,#0000a6,#0000ad,#0000b1,#0000b3,#0000b4,#0000b9,#0000bc,#0000b8,#0000a4,#0000a3,#0000a9,#0000a1,#00009e,#0000e1,#0042ff,#0057ff,#005fff,#0057ff,#004eff,#0049ff,#0046ff,#0044ff,#003dff,#0023ff,#0000b2,#009cff,#00c3ff,#00cfff,#00daff,#00e9ff,#00f5ff,#00f0ff,#00e8ff,#00e2ff,#00ccff,#000bff,#00f1ff,#c6ff39,#ccff33,#1bffe4,#0000fc,#0000c7,#009fff,#ffc300,#ff7400,#003cff,#0000dc,#000cff,#0071ff,#0ffff0,#d6ff29,#ff5800,#b40000,#800000,#fff600,#ff9400,#85ff7a,#00bcff,#003aff,#0050ff,#5cffa3,#ffeb00,#ffbc00,#ff3f00,#fffa00,#0093ff,#0000d0)"></i>
<i style="left:162px;width:6px;background:linear-gradient(#000099,#0000d8,#0076ff,#0bfff4,#05fffa,#00b6ff,#0093ff,#007eff,#00b6ff,#00f0ff,#0070ff,#001aff,#0000d0,#0000a7,#0000aa,#0000c0,#0000fc,#0000fe,#0000c9,#0000c6,#0000f4,#0000f0,#0000bb,#00009c,#000094,#000098,#0000a4,#0000b4,#0000c0,#0000c6,#0000c0,#0000aa,#0000a6,#0000cf,#0000d0,#0000a6,#000094,#00008f,#00008d,#000090,#000099,#00009b,#00009a,#000098,#000098,#00009f,#0000a9,#0000af,#0000ae,#0000ae,#0000b8,#0000ba,#0000b1,#0000a2,#00009a,#00009d,#0000a8,#0000b1,#0000b1,#0000a8,#0000af,#0000c1,#0000cf,#0000bb,#0000c3,#0000d5,#0000cd,#0000b7,#0000a9,#0000ac,#0000b4,#0000b6,#0000b8,#0000ba,#0000bf,#0000c3,#0000c5,#0000ae,#0000ad,#0000b4,#0000a4,#00009e,#0000fe,#0086ff,#009dff,#00a7ff,#00a2ff,#009cff,#0098ff,#0094ff,#0090ff,#0086ff,#0062ff,#0000bb,#00ffff,#38ffc7,#48ffb7,#56ffa9,#64ff9b,#6dff92,#67ff98,#5dffa2,#52ffad,#2cffd3,#0013ff,#30ffcf,#ffbd00,#ffb200,#6dff92,#0007ff,#0000c1,#00aaff,#ff7400,#ff3b00,#003dff,#0000d8,#000aff,#0074ff,#18ffe7,#e8ff17,#ff3700,#830000,#800000,#ffa300,#ff6700,#a2ff5d,#00cbff,#003fff,#0046ff,#30ffcf,#d5ff2a,#ffef00,#ff7600,#d9ff26,#007eff,#0000c9)"></i>
<i style="left:168px;width:7px;background:linear-gradient(#000095,#0000bf,#0028ff,#0087ff,#0077ff,#003bff,#0028ff,#0024ff,#0053ff,#0075ff,#0028ff,#0000ee,#0000c1,#0000a5,#0000a9,#0000c0,#0000f7,#0000f6,#0000c5,#0000c6,#0000f0,#0000ec,#0000bc,#00009d,#000093,#000096,#0000a0,#0000ad,#0000b7,#0000be,#0000bb,#0000a6,#0000a4,#0000ce,#0000d0,#0000a4,#000091,#00008e,#00008d,#000090,#000098,#00009b,#00009b,#000098,#000097,#00009e,#0000a8,#0000b0,#0000af,#0000b0,#0000ba,#0000bb,#0000b1,#0000a2,#000099,#00009c,#0000a7,#0000b2,#0000b4,#0000ac,#0000b2,#0000c4,#0000d4,#0000bf,#0000c4,#0000d5,#0000ce,#0000ba,#0000af,#0000b5,#0000bf,#0000c0,#0000c2,#0000c4,#0000ca,#0000d0,#0000d7,#0000bf,#0000bf,#0000c8,#0000a7,#00009e,#0025ff,#00deff,#00f9ff,#06fff9,#05fffa,#02fffd,#00feff,#00f9ff,#00f1ff,#00e3ff,#00b2ff,#0000c6,#72ff8d,#bcff43,#d2ff2d,#e2ff1d,#efff10,#f5ff0a,#eeff11,#e2ff1d,#d2ff2d,#9aff65,#001eff,#6cff93,#ff4900,#ff3a00,#bbff44,#0012ff,#0000be,#00b2ff,#ff3100,#ff1200,#003eff,#0000d3,#0006ff,#0071ff,#15ffea,#e6ff19,#ff3600,#800000,#800000,#ff7200,#ff5e00,#a8ff57,#00cdff,#003dff,#0039ff,#00feff,#91ff6e,#ccff33,#ffc500,#9cff63,#0064ff,#0000c3)"></i>
<i style="left:175px;width:6px;background:linear-gradient(#000091,#0000ab,#0000eb,#0024ff,#0010ff,#0000e5,#0000de,#0000e7,#000cff,#001cff,#0000f4,#0000d5,#0000b8,#0000a4,#0000a9,#0000bf,#0000f3,#0000f0,#0000c3,#0000c7,#0000ee,#0000ea,#0000bd,#00009d,#000093,#000095,#00009d,#0000a8,#0000b1,#0000b9,#0000b8,#0000a4,#0000a2,#0000cc,#0000d1,#0000a4,#000090,#00008e,#00008d,#000090,#000097,#00009b,#00009d,#000099,#000096,#00009c,#0000a7,#0000b0,#0000b1,#0000b1,#0000ba,#0000ba,#0000b0,#0000a1,#000098,#00009b,#0000a6,#0000b3,#0000b8,#0000b2,#0000b6,#0000c8,#0000d9,#0000c4,#0000c8,#0000d8,#0000d2,#0000c1,#0000b9,#0000c4,#0000d0,#0000d1,#0000d2,#0000d6,#0000dd,#0000e5,#0000f0,#0000dc,#0000df,#0000ea,#0000ae,#00009e,#0053ff,#4affb5,#6aff95,#7aff85,#7eff81,#7eff81,#7bff84,#74ff8b,#68ff97,#54ffab,#13ffec,#0000d4,#eaff15,#ffb700,#ff9b00,#ff8800,#ff7c00,#ff7800,#ff8000,#ff8f00,#ffa600,#ffef00,#002aff,#9cff63,#e90000,#d60000,#fbff04,#001dff,#0000bc,#00b5ff,#ff0300,#fc0000,#003cff,#0000cf,#0000fe,#0067ff,#05fffa,#ccff33,#ff5900,#a50000,#800000,#ff6c00,#ff7c00,#93ff6c,#00c0ff,#0034ff,#0029ff,#00cdff,#49ffb6,#7fff80,#daff25,#53ffac,#0047ff,#0000bd)"></i>
<i style="left:181px;width:6px;background:linear-gradient(#00008f,#00009d,#0000c3,#0000e3,#0000d1,#0000b6,#0000b8,#0000c8,#0000e0,#0000e4,#0000d5,#0000c6,#0000b2,#0000a4,#0000aa,#0000c0,#0000f0,#0000eb,#0000c2,#0000c8,#0000ec,#0000e9,#0000bd,#00009e,#000093,#000094,#00009b,#0000a4,#0000ac,#0000b6,#0000b7,#0000a3,#0000a1,#0000cb,#0000d1,#0000a5,#000091,#00008e,#00008f,#000090,#000097,#00009d,#00009f,#00009a,#000096,#00009c,#0000a7,#0000b2,#0000b3,#0000b2,#0000b9,#0000b7,#0000ac,#00009f,#000098,#00009b,#0000a7,#0000b6,#0000be,#0000b9,#0000bd,#0000ce,#0000e0,#0000cd,#0000cf,#0000e0,#0000dc,#0000ce,#0000cb,#0000db,#0000ec,#0000ec,#0000ed,#0000f3,#0000fc,#0008ff,#0016ff,#0009ff,#0012ff,#0020ff,#0000b8,#00009f,#0087ff,#c3ff3c,#e8ff17,#feff01,#fff800,#fff500,#fff800,#fdff02,#ecff13,#d2ff2d,#7fff80,#0000e2,#ffa100,#ff3200,#ff1100,#fa0000,#ed0000,#ec0000,#f50000,#ff0900,#ff2500,#ff7e00,#0034ff,#bbff44,#ac0000,#970000,#ffdb00,#0025ff,#0000bb,#00b2ff,#ee0000,#ff0000,#0038ff,#0000ca,#0000f6,#0057ff,#00e7ff,#9cff63,#ff9d00,#f80000,#bc0000,#ff9100,#ffbd00,#67ff98,#00a6ff,#0026ff,#0018ff,#009dff,#02fffd,#2fffd0,#75ff8a,#05fffa,#0029ff,#0000b8)"></i>
<i style="left:187px;width:6px;background:linear-gradient(#00008e,#000095,#0000ab,#0000be,#0000b2,#0000a2,#0000aa,#0000be,#0000cd,#0000c9,#0000c3,#0000bd,#0000ae,#0000a4,#0000ab,#0000c1,#0000ec,#0000e8,#0000c1,#0000c9,#0000eb,#0000e7,#0000be,#00009e,#000092,#000093,#00009a,#0000a2,#0000a9,#0000b5,#0000b7,#0000a2,#0000a1,#0000c9,#0000d1,#0000a7,#000093,#000091,#000091,#000093,#000098,#00009e,#0000a2,#00009c,#000096,#00009c,#0000aa,#0000b6,#0000b7,#0000b4,#0000b8,#0000b2,#0000a8,#00009d,#000098,#00009d,#0000aa,#0000ba,#0000c5,#0000c3,#0000c9,#0000da,#0000ec,#0000db,#0000de,#0000ef,#0000ef,#0000e6,#0000e8,#0000ff,#0016ff,#0017ff,#0019ff,#0022ff,#002fff,#003dff,#004eff,#004cff,#005cff,#006cff,#0000c7,#00009f,#00bcff,#ffbe00,#ff9200,#ff7800,#ff6a00,#ff6400,#ff6700,#ff7300,#ff8900,#ffa900,#efff10,#0000ef,#ff4000,#c10000,#9b0000,#820000,#800000,#800000,#810000,#970000,#b80000,#ff1f00,#003bff,#c3ff3c,#9a0000,#850000,#ffce00,#0029ff,#0000bb,#00aaff,#f60000,#ff1a00,#0033ff,#0000c7,#0000ed,#0042ff,#00c0ff,#5cffa3,#fffa00,#ff6e00,#ff3900,#ffdc00,#e6ff19,#2affd5,#0082ff,#0012ff,#0005ff,#0071ff,#00bfff,#00e0ff,#12ffed,#00b8ff,#000cff,#0000b3)"></i>
<i style="left:193px;width:7px;background:linear-gradient(#00008d,#000091,#00009e,#0000ab,#0000a3,#00009b,#0000a7,#0000bd,#0000c9,#0000be,#0000b9,#0000b6,#0000ab,#0000a4,#0000ad,#0000c2,#0000e9,#0000e4,#0000c1,#0000cb,#0000ea,#0000e6,#0000bd,#00009e,#000092,#000093,#00009a,#0000a2,#0000a8,#0000b5,#0000b8,#0000a2,#0000a1,#0000c7,#0000d0,#0000aa,#000097,#000095,#000097,#000097,#00009b,#0000a2,#0000a6,#00009f,#000098,#00009f,#0000b0,#0000be,#0000c0,#0000ba,#0000b9,#0000af,#0000a4,#00009b,#00009a,#0000a3,#0000b0,#0000c2,#0000d0,#0000d3,#0000dd,#0000ee,#0001ff,#0000f3,#0000f8,#000bff,#0010ff,#000dff,#0015ff,#0035ff,#0051ff,#0054ff,#0058ff,#0066ff,#0078ff,#008aff,#009eff,#00a8ff,#00c0ff,#00d2ff,#0000db,#00009f,#00efff,#ff4800,#ff1600,#f60000,#e30000,#db0000,#de0000,#ed0000,#ff0800,#ff2e00,#ffa600,#0000f9,#fc0000,#800000,#800000,#800000,#800000,#800000,#800000,#800000,#800000,#dd0000,#003cff,#b2ff4d,#b70000,#a10000,#ffe000,#0028ff,#0000bb,#009bff,#ff1900,#ff4a00,#002dff,#0000c6,#0000e5,#002cff,#0095ff,#12ffed,#99ff66,#fff400,#ffc900,#beff41,#7fff80,#00e4ff,#005aff,#0000fc,#0000f3,#0049ff,#0083ff,#0099ff,#00b8ff,#0073ff,#0000f1,#0000ae)"></i>
<i style="left:200px;width:6px;background:linear-gradient(#00008c,#00008e,#000097,#0000a2,#00009c,#000099,#0000a8,#0000c0,#0000cc,#0000bb,#0000b3,#0000b0,#0000a8,#0000a6,#0000b1,#0000c4,#0000e6,#0000e0,#0000c1,#0000cb,#0000e9,#0000e4,#0000bd,#00009e,#000093,#000095,#00009c,#0000a6,#0000ac,#0000b9,#0000bb,#0000a3,#0000a2,#0000c5,#0000d0,#0000b0,#00009f,#00009f,#0000a2,#0000a0,#0000a2,#0000a7,#0000ad,#0000a5,#00009d,#0000a6,#0000bd,#0000ce,#0000ce,#0000c6,#0000be,#0000ad,#0000a1,#00009b,#00009f,#0000ae,#0000bd,#0000d0,#0000e2,#0000eb,#0000fc,#000fff,#0022ff,#001bff,#0023ff,#0038ff,#0043ff,#0047ff,#0057ff,#007eff,#00a1ff,#00a7ff,#00afff,#00c3ff,#00dbff,#00f2ff,#0afff5,#20ffdf,#3effc1,#50ffaf,#0000f2,#0000a0,#1affe5,#e50000,#ad0000,#8a0000,#800000,#800000,#800000,#800000,#9b0000,#c60000,#ff4e00,#0001ff,#e00000,#800000,#800000,#800000,#800000,#800000,#800000,#800000,#800000,#c30000,#0038ff,#8bff74,#fd0000,#e90000,#f0ff0f,#0022ff,#0000bc,#0087ff,#ff5300,#ff8b00,#0026ff,#0000c8,#0000df,#0018ff,#006aff,#00c6ff,#2bffd4,#81ff7e,#a2ff5d,#51ffae,#17ffe8,#009fff,#0032ff,#0000e7,#0000e3,#0027ff,#004fff,#005dff,#006bff,#0039ff,#0000da,#0000a9)"></i>
<i style="left:206px;width:6px;background:linear-gradient(#00008c,#00008d,#000093,#00009d,#000099,#000099,#0000ab,#0000c5,#0000d5,#0000bb,#0000ae,#0000ab,#0000a6,#0000a9,#0000b5,#0000c6,#0000e2,#0000dd,#0000c1,#0000cb,#0000e6,#0000e1,#0000bc,#00009e,#000095,#000099,#0000a3,#0000b0,#0000b5,#0000c3,#0000c3,#0000a6,#0000a4,#0000c5,#0000d2,#0000bb,#0000af,#0000b0,#0000b6,#0000b1,#0000ae,#0000b1,#0000b7,#0000ae,#0000a6,#0000b4,#0000d5,#0000e8,#0000e8,#0000dc,#0000ca,#0000b0,#0000a3,#00009f,#0000ab,#0000c3,#0000d5,#0000e8,#0000fe,#0010ff,#002cff,#0041ff,#0055ff,#0054ff,#0062ff,#007cff,#008eff,#0099ff,#00b1ff,#00deff,#07fff8,#13ffec,#20ffdf,#3affc5,#57ffa8,#73ff8c,#8eff71,#abff54,#cdff32,#dcff23,#000dff,#0000a0,#37ffc8,#a30000,#800000,#800000,#800000,#800000,#800000,#800000,#800000,#800000,#ff1200,#0004ff,#f00000,#800000,#800000,#800000,#800000,#800000,#800000,#800000,#800000,#d40000,#002dff,#52ffad,#ff6500,#ff5300,#aeff51,#0018ff,#0000bb,#0070ff,#ff9f00,#ffd900,#0020ff,#0000cd,#0000dc,#0006ff,#0043ff,#0081ff,#00c5ff,#02fffd,#1bffe4,#00e6ff,#00b7ff,#0061ff,#000eff,#0000d4,#0000d6,#000bff,#0025ff,#002bff,#002eff,#000aff,#0000c8,#0000a5)"></i>
<i style="left:212px;width:6px;background:linear-gradient(#00008c,#00008d,#000092,#00009b,#000098,#00009a,#0000ae,#0000cb,#0000e2,#0000bd,#0000aa,#0000a6,#0000a6,#0000ad,#0000bb,#0000c7,#0000de,#0000d8,#0000c0,#0000ca,#0000e2,#0000de,#0000ba,#00009f,#000098,#0000a2,#0000b1,#0000c4,#0000c8,#0000d6,#0000d1,#0000ac,#0000a9,#0000c7,#0000d8,#0000cf,#0000ca,#0000ce,#0000d7,#0000ce,#0000c5,#0000c2,#0000c8,#0000bf,#0000b8,#0000cd,#0000fd,#0014ff,#0014ff,#0003ff,#0000e2,#0000bc,#0000aa,#0000a9,#0000c2,#0000e6,#0000fc,#0010ff,#0029ff,#0043ff,#006eff,#0087ff,#009dff,#00a6ff,#00b9ff,#00d8ff,#00f2ff,#06fff9,#24ffdb,#55ffaa,#80ff7f,#92ff6d,#a4ff5b,#c2ff3d,#e2ff1d,#fffd00,#ffdf00,#ffbf00,#ff9e00,#ff9500,#0026ff,#0000a0,#43ffbc,#890000,#800000,#800000,#800000,#800000,#800000,#800000,#800000,#800000,#f90000,#0001ff,#ff2900,#a60000,#800000,#800000,#800000,#800000,#800000,#800000,#a10000,#ff0f00,#001eff,#0efff1,#ffe000,#ffce00,#5fffa0,#000aff,#0000ba,#0057ff,#fff700,#d1ff2e,#0018ff,#0000d1,#0000da,#0000f6,#0022ff,#0046ff,#006eff,#0095ff,#00a7ff,#0089ff,#0069ff,#002eff,#0000f0,#0000c5,#0000cb,#0000f3,#0003ff,#0003ff,#0000fe,#0000e5,#0000b9,#0000a2)"></i>
<i style="left:218px;width:7px;background:linear-gradient(#00008c,#00008c,#000091,#00009a,#000098,#00009c,#0000b2,#0000d3,#0000f3,#0000c1,#0000a7,#0000a3,#0000a6,#0000b3,#0000c1,#0000c9,#0000da,#0000d4,#0000c0,#0000c9,#0000dd,#0000d9,#0000b9,#0000a1,#0000a0,#0000b2,#0000ca,#0000e7,#0000ea,#0000f6,#0000e9,#0000b7,#0000b1,#0000cd,#0000e8,#0000f1,#0000f5,#0000fd,#000cff,#0000fc,#0000ea,#0000df,#0000e4,#0000da,#0000d6,#0000f7,#003cff,#0055ff,#0053ff,#003dff,#000cff,#0000d4,#0000bb,#0000be,#0000e8,#001fff,#0038ff,#004bff,#0066ff,#0089ff,#00c5ff,#00e3ff,#00feff,#10ffef,#2bffd4,#4fffb0,#6eff91,#88ff77,#abff54,#dbff24,#fff900,#ffe300,#ffcc00,#ffad00,#ff8d00,#ff6e00,#ff5200,#ff3400,#ff1900,#ff1900,#003bff,#0000a0,#3cffc3,#9a0000,#800000,#800000,#800000,#800000,#800000,#800000,#800000,#800000,#ff0a00,#0000f9,#ff8300,#ff0e00,#ea0000,#d30000,#c80000,#c80000,#d20000,#e70000,#ff0800,#ff6a00,#000bff,#00c5ff,#9eff61,#afff50,#0dfff2,#0000fa,#0000b9,#003dff,#abff54,#7bff84,#000dff,#0000d1,#0000d5,#0000e9,#0007ff,#0017ff,#0029ff,#003fff,#004dff,#003fff,#002eff,#0008ff,#0000da,#0000ba,#0000c4,#0000e3,#0000e7,#0000e4,#0000db,#0000ca,#0000ae,#00009e)"></i>
<i style="left:225px;width:6px;background:linear-gradient(#00008c,#00008c,#000090,#000099,#000098,#00009e,#0000b7,#0000dc,#0008ff,#0000c8,#0000a5,#0000a1,#0000a9,#0000ba,#0000c7,#0000c9,#0000d5,#0000d0,#0000c0,#0000c8,#0000d8,#0000d5,#0000b9,#0000a7,#0000af,#0000cf,#0000f4,#001fff,#0020ff,#002bff,#0010ff,#0000cb,#0000c0,#0000d9,#0006ff,#0028ff,#0037ff,#0044ff,#0058ff,#0042ff,#0025ff,#000eff,#0012ff,#0006ff,#0007ff,#0037ff,#0093ff,#00b0ff,#00abff,#0091ff,#004bff,#0000fe,#0000da,#0000e1,#0024ff,#006fff,#008dff,#009fff,#00baff,#00e4ff,#32ffcd,#55ffaa,#76ff89,#90ff6f,#b0ff4f,#d6ff29,#faff05,#ffe700,#ffc400,#ff9900,#ff7300,#ff5c00,#ff4400,#ff2800,#ff0d00,#f30000,#dc0000,#c70000,#b40000,#c20000,#0049ff,#0000a0,#23ffdc,#d40000,#9b0000,#800000,#800000,#800000,#800000,#800000,#880000,#b40000,#ff3f00,#0000ee,#fff200,#ff8e00,#ff6e00,#ff5b00,#ff5200,#ff5200,#ff5b00,#ff6b00,#ff8700,#ffdb00,#0000f5,#0080ff,#24ffdb,#36ffc9,#00beff,#0000eb,#0000b7,#0023ff,#50ffaf,#27ffd8,#0000fd,#0000cb,#0000cc,#0000dc,#0000f1,#0000f3,#0000f4,#0001ff,#000bff,#0009ff,#0004ff,#0000ed,#0000cb,#0000b2,#0000bf,#0000d7,#0000d3,#0000ce,#0000c3,#0000b8,#0000a5,#00009b)"></i>
<i style="left:231px;width:6px;background:linear-gradient(#00008c,#00008c,#000090,#000098,#000098,#0000a0,#0000bb,#0000e6,#001fff,#0000cf,#0000a5,#0000a1,#0000af,#0000c3,#0000cc,#0000c9,#0000d0,#0000cd,#0000c2,#0000c7,#0000d3,#0000d1,#0000bb,#0000b2,#0000c8,#0000fe,#0035ff,#006eff,#006fff,#0076ff,#004bff,#0000ed,#0000d9,#0000f0,#0035ff,#0075ff,#0091ff,#00a4ff,#00beff,#00a1ff,#0077ff,#0052ff,#0053ff,#0046ff,#004dff,#0091ff,#06fff9,#24ffdb,#1effe1,#00feff,#00a4ff,#003fff,#000fff,#001aff,#0078ff,#00d9ff,#00fcff,#0dfff2,#27ffd8,#56ffa9,#b0ff4f,#d7ff28,#fcff03,#ffe300,#ffc100,#ff9b00,#ff7800,#ff5b00,#ff3c00,#ff1b00,#fd0000,#e80000,#d40000,#c00000,#ae0000,#9f0000,#920000,#890000,#830000,#9e0000,#004cff,#00009f,#00fbff,#ff3000,#fc0000,#dc0000,#c80000,#c00000,#c30000,#d20000,#ed0000,#ff1600,#ff9200,#0000e0,#94ff6b,#e7ff18,#fffc00,#ffeb00,#ffe500,#ffe600,#ffed00,#fffa00,#eeff11,#a8ff57,#0000e1,#0042ff,#00b8ff,#00ccff,#007aff,#0000dd,#0000b5,#000bff,#00f9ff,#00d7ff,#0000eb,#0000c1,#0000c0,#0000cf,#0000e1,#0000da,#0000d1,#0000d5,#0000dd,#0000e4,#0000e9,#0000dd,#0000c2,#0000ae,#0000bd,#0000cf,#0000c4,#0000be,#0000b2,#0000ab,#00009f,#000098)"></i>
<i style="left:237px;width:6px;background:linear-gradient(#00008c,#00008c,#000090,#000097,#000099,#0000a2,#0000bf,#0000ef,#0037ff,#0000d8,#0000a6,#0000a4,#0000b7,#0000ce,#0000d1,#0000c7,#0000cb,#0000cc,#0000c6,#0000c7,#0000cd,#0000cf,#0000c2,#0000c8,#0000f3,#0045ff,#008fff,#00d9ff,#00d8ff,#00dbff,#009eff,#0023ff,#0002ff,#0017ff,#007cff,#00dcff,#05fffa,#1effe1,#3fffc0,#1bffe4,#00e3ff,#00afff,#00adff,#009fff,#00aeff,#06fff9,#8eff71,#adff52,#a5ff5a,#82ff7d,#17ffe8,#0099ff,#005aff,#006bff,#00e7ff,#5dffa2,#83ff7c,#91ff6e,#a7ff58,#d7ff28,#ffc700,#ffa000,#ff7b00,#ff5b00,#ff3a00,#ff1a00,#fb0000,#e40000,#ce0000,#b90000,#a70000,#9a0000,#8f0000,#870000,#820000,#800000,#810000,#850000,#8d0000,#b30000,#0046ff,#00009e,#00caff,#ffa200,#ff7500,#ff5a00,#ff4b00,#ff4500,#ff4800,#ff5500,#ff6c00,#ff8f00,#fffa00,#0000d1,#20ffdf,#62ff9d,#7aff85,#86ff79,#89ff76,#87ff78,#81ff7e,#78ff87,#67ff98,#31ffce,#0000ce,#0010ff,#0061ff,#0077ff,#0042ff,#0000d1,#0000b2,#0000f5,#00acff,#0090ff,#0000d8,#0000b5,#0000b5,#0000c5,#0000d7,#0000c9,#0000ba,#0000b9,#0000c0,#0000cd,#0000da,#0000d5,#0000be,#0000ac,#0000bc,#0000ca,#0000ba,#0000b3,#0000a7,#0000a2,#00009a,#000095)"></i>
<i style="left:243px;width:7px;background:linear-gradient(#00008c,#00008c,#00008f,#000096,#000099,#0000a4,#0000c2,#0000f7,#004eff,#0000e1,#0000a9,#0000aa,#0000c4,#0000da,#0000d4,#0000c4,#0000c8,#0000d0,#0000d0,#0000c9,#0000c9,#0000d0,#0000d3,#0000ed,#0034ff,#00a5ff,#04fffb,#5dffa2,#5bffa4,#59ffa6,#0cfff3,#006eff,#003eff,#0050ff,#00dbff,#5affa5,#8dff72,#abff54,#cfff30,#a8ff57,#68ff97,#26ffd9,#21ffde,#12ffed,#29ffd6,#8fff70,#ffdd00,#ffc000,#ffc900,#ffec00,#9eff61,#0efff1,#00c1ff,#00d7ff,#6eff91,#efff10,#ffea00,#ffde00,#ffcd00,#ff9f00,#ff4400,#ff2100,#ff0200,#e60000,#cd0000,#b70000,#a40000,#970000,#8c0000,#850000,#810000,#800000,#810000,#870000,#8f0000,#9b0000,#aa0000,#bc0000,#cf0000,#ff0000,#0035ff,#00009d,#0095ff,#e1ff1e,#fff800,#ffe200,#ffd700,#ffd400,#ffd700,#ffe100,#fff500,#ecff13,#94ff6b,#0000c3,#00b6ff,#00eaff,#00feff,#09fff6,#09fff6,#05fffa,#00ffff,#00f9ff,#00ecff,#00c4ff,#0000be,#0000e7,#001fff,#0037ff,#0019ff,#0000c8,#0000b0,#0000e2,#006aff,#0053ff,#0000c8,#0000ab,#0000ab,#0000bf,#0000d0,#0000bf,#0000ac,#0000a8,#0000b0,#0000c1,#0000d3,#0000d2,#0000bd,#0000ac,#0000be,#0000c8,#0000b3,#0000aa,#0000a0,#00009c,#000097,#000093)"></i>
<i style="left:250px;width:6px;background:linear-gradient(#00008c,#00008c,#00008f,#000095,#000099,#0000a6,#0000c4,#0000fc,#0061ff,#0000e9,#0000ae,#0000b5,#0000d5,#0000e6,#0000d5,#0000c0,#0000c7,#0000dc,#0000e3,#0000cf,#0000c6,#0000d9,#0000f2,#0028ff,#008eff,#20ffdf,#8fff70,#efff10,#ecff13,#e7ff18,#8eff71,#00d4ff,#0091ff,#00a0ff,#53ffac,#e7ff18,#ffe000,#ffc000,#ff9b00,#ffc200,#faff05,#b0ff4f,#a9ff56,#9aff65,#b7ff48,#ffda00,#ff5000,#ff3800,#ff4000,#ff5f00,#ffcf00,#98ff67,#41ffbe,#5cffa3,#fffd00,#ff7d00,#ff5c00,#ff5300,#ff4600,#ff2000,#d60000,#bd0000,#a90000,#990000,#8d0000,#840000,#800000,#800000,#830000,#890000,#910000,#9d0000,#ad0000,#bf0000,#d40000,#eb0000,#ff0700,#ff2300,#ff3f00,#ff7300,#001eff,#00009c,#0061ff,#67ff98,#85ff7a,#96ff69,#9dff62,#9dff62,#9bff64,#92ff6d,#82ff7d,#6aff95,#24ffdb,#0000b6,#005fff,#0087ff,#0099ff,#00a0ff,#009dff,#0098ff,#0093ff,#008fff,#0086ff,#0069ff,#0000b1,#0000ca,#0000ef,#000bff,#0000fa,#0000c1,#0000af,#0000d3,#0033ff,#0022ff,#0000bb,#0000a3,#0000a5,#0000bb,#0000cd,#0000ba,#0000a4,#00009f,#0000a7,#0000bb,#0000d1,#0000d2,#0000bd,#0000ad,#0000c1,#0000c8,#0000ae,#0000a5,#00009b,#000098,#000094,#000091)"></i>
<i style="left:256px;width:6px;background:linear-gradient(#00008c,#00008c,#00008f,#000094,#000098,#0000a6,#0000c5,#0001ff,#006eff,#0000f0,#0000b6,#0000c5,#0000eb,#0000f3,#0000d4,#0000bc,#0000c8,#0000f2,#0006ff,#0000d9,#0000c5,#0000eb,#0025ff,#007bff,#03fffc,#aeff51,#ffdb00,#ff7c00,#ff8000,#ff8800,#ffe300,#52ffad,#00fdff,#08fff7,#daff25,#ff8a00,#ff5400,#ff3600,#ff1700,#ff3700,#ff7300,#ffbc00,#ffc500,#ffd300,#ffb300,#ff4c00,#da0000,#ca0000,#d00000,#e70000,#ff4500,#ffd300,#d2ff2d,#efff10,#ff6b00,#fd0000,#e40000,#de0000,#d60000,#bc0000,#910000,#870000,#810000,#800000,#830000,#8a0000,#950000,#a20000,#b20000,#c30000,#d70000,#ef0000,#ff0b00,#ff2800,#ff4500,#ff6500,#ff8700,#ffa800,#ffc900,#fffd00,#0004ff,#00009b,#0031ff,#00f7ff,#10ffef,#1cffe3,#20ffdf,#1dffe2,#1bffe4,#15ffea,#08fff7,#00f4ff,#00beff,#0000ab,#001bff,#0039ff,#004aff,#004fff,#004aff,#0043ff,#003eff,#003cff,#0036ff,#0023ff,#0000a7,#0000b6,#0000cf,#0000ec,#0000e7,#0000bd,#0000ad,#0000c7,#0008ff,#0000f9,#0000b0,#00009e,#0000a2,#0000ba,#0000cb,#0000b7,#0000a1,#00009a,#0000a2,#0000b9,#0000d1,#0000d4,#0000bf,#0000b0,#0000c5,#0000ca,#0000ab,#0000a0,#000098,#000096,#000092,#000090)"></i>
<i style="left:262px;width:7px;background:linear-gradient(#00008c,#00008c,#00008e,#000093,#000098,#0000a7,#0000c5,#0001ff,#0074ff,#0000f6,#0000c1,#0000dc,#0005ff,#0000fd,#0000d1,#0000b8,#0000ce,#0017ff,#003bff,#0000ea,#0000c7,#000bff,#006cff,#00e8ff,#8dff72,#ffbb00,#ff4c00,#fb0000,#ff0000,#ff0800,#ff5800,#dfff20,#7fff80,#85ff7a,#ff9900,#ff0c00,#df0000,#c90000,#b40000,#ca0000,#f60000,#ff3400,#ff3d00,#ff4800,#ff2a00,#d70000,#920000,#8b0000,#8d0000,#990000,#d40000,#ff4600,#ff9700,#ff7c00,#ef0000,#a40000,#960000,#940000,#910000,#860000,#810000,#870000,#910000,#9f0000,#b10000,#c80000,#e10000,#f80000,#ff1200,#ff2d00,#ff4900,#ff6a00,#ff8c00,#ffae00,#ffd000,#fff300,#e8ff17,#c6ff39,#a5ff5a,#74ff8b,#0000e9,#00009a,#0009ff,#0099ff,#00abff,#00b4ff,#00b5ff,#00b1ff,#00afff,#00a9ff,#009fff,#0090ff,#0068ff,#0000a2,#0000e9,#0001ff,#000fff,#0014ff,#000dff,#0005ff,#0000ff,#0000fd,#0000fa,#0000ee,#00009f,#0000a9,#0000bb,#0000da,#0000db,#0000bb,#0000ad,#0000bd,#0000e7,#0000dc,#0000a8,#00009a,#0000a0,#0000b9,#0000c9,#0000b5,#00009f,#000098,#0000a0,#0000b9,#0000d3,#0000d6,#0000c1,#0000b3,#0000cb,#0000ce,#0000ab,#00009e,#000096,#000094,#000091,#00008f)"></i>
<i style="left:269px;width:6px;background:linear-gradient(#00008c,#00008c,#00008e,#000093,#000098,#0000a6,#0000c3,#0000fd,#0072ff,#0000fa,#0000d1,#0000f9,#0020ff,#0006ff,#0000cc,#0000b5,#0000d9,#004dff,#008aff,#0001ff,#0000cb,#003aff,#00c9ff,#6bff94,#ffdc00,#ff3100,#d70000,#a30000,#a50000,#aa0000,#e30000,#ff8f00,#fff200,#fff000,#ff1900,#ae0000,#950000,#8a0000,#830000,#8b0000,#a10000,#c70000,#ce0000,#d60000,#c00000,#900000,#810000,#840000,#820000,#800000,#8f0000,#d40000,#ff1300,#fc0000,#9c0000,#800000,#800000,#800000,#810000,#870000,#ab0000,#bf0000,#d60000,#f10000,#ff1200,#ff3400,#ff5700,#ff7400,#ff9200,#ffb300,#ffd300,#fff900,#e0ff1f,#beff41,#9dff62,#7cff83,#5bffa4,#3effc1,#20ffdf,#00f3ff,#0000d2,#00009a,#0000e7,#004eff,#005cff,#0063ff,#0062ff,#005bff,#005aff,#0055ff,#004cff,#0040ff,#0024ff,#00009b,#0000c7,#0000d9,#0000e6,#0000ea,#0000e2,#0000d9,#0000d4,#0000d3,#0000d1,#0000ca,#00009b,#0000a0,#0000af,#0000d0,#0000d5,#0000bb,#0000ad,#0000b6,#0000ce,#0000c6,#0000a2,#000098,#00009f,#0000b7,#0000c7,#0000b3,#00009e,#000098,#0000a0,#0000ba,#0000d5,#0000d8,#0000c3,#0000b7,#0000d2,#0000d3,#0000ab,#00009c,#000094,#000092,#000090,#00008e)"></i>
<i style="left:275px;width:6px;background:linear-gradient(#00008c,#00008d,#00008e,#000092,#000097,#0000a5,#0000c0,#0000f7,#0068ff,#0000ff,#0000e7,#001eff,#003cff,#000bff,#0000c6,#0000b3,#0000e7,#0096ff,#00f4ff,#001eff,#0000d2,#0079ff,#3dffc2,#f9ff06,#ff4f00,#c40000,#900000,#800000,#800000,#800000,#970000,#ff0e00,#ff6600,#ff6800,#b80000,#820000,#800000,#840000,#8b0000,#830000,#800000,#8a0000,#8d0000,#900000,#870000,#810000,#aa0000,#b60000,#b10000,#a00000,#820000,#8f0000,#b00000,#a30000,#800000,#960000,#a40000,#a70000,#ab0000,#c10000,#ff0900,#ff2700,#ff4600,#ff6b00,#ff9300,#ffbd00,#ffe400,#fcff03,#dcff23,#baff45,#9aff65,#74ff8b,#51ffae,#32ffcd,#16ffe9,#00f9ff,#00dfff,#00c9ff,#00b0ff,#0089ff,#0000bf,#000099,#0000cf,#0015ff,#0020ff,#0026ff,#0025ff,#001cff,#001aff,#0016ff,#000eff,#0005ff,#0000f0,#000096,#0000b0,#0000bf,#0000cc,#0000cf,#0000c7,#0000bd,#0000b8,#0000b7,#0000b7,#0000b3,#000098,#00009c,#0000a9,#0000cc,#0000d3,#0000bd,#0000ad,#0000b1,#0000bd,#0000b6,#00009e,#000096,#00009d,#0000b5,#0000c3,#0000b1,#00009e,#000098,#0000a0,#0000bb,#0000d7,#0000d9,#0000c5,#0000bb,#0000d9,#0000d9,#0000ad,#00009b,#000093,#000091,#00008f,#00008d)"></i>
<i style="left:281px;width:6px;background:linear-gradient(#00008c,#00008d,#00008e,#000092,#000097,#0000a4,#0000bc,#0000ef,#0058ff,#0006ff,#0006ff,#0047ff,#0054ff,#000aff,#0000bf,#0000b3,#0000f7,#00ecff,#75ff8a,#003dff,#0000da,#00cbff,#c0ff3f,#ff7800,#d90000,#880000,#810000,#970000,#950000,#900000,#800000,#af0000,#ef0000,#f10000,#850000,#8e0000,#a40000,#b60000,#ca0000,#b20000,#980000,#840000,#830000,#810000,#870000,#ad0000,#ff0500,#ff1900,#ff1300,#f60000,#ad0000,#820000,#820000,#800000,#9f0000,#e30000,#fb0000,#ff0300,#ff0900,#ff2a00,#ff8a00,#ffad00,#ffcf00,#fff600,#dcff23,#b0ff4f,#88ff77,#6bff94,#4effb1,#30ffcf,#13ffec,#00efff,#00d0ff,#00b8ff,#00a2ff,#008dff,#007cff,#006fff,#005cff,#0039ff,#0000b1,#000098,#0000bd,#0000eb,#0000f4,#0000fa,#0000f9,#0000ef,#0000ec,#0000e8,#0000e1,#0000d9,#0000cc,#000093,#0000a3,#0000af,#0000bb,#0000be,#0000b6,#0000ac,#0000a6,#0000a6,#0000a7,#0000a6,#000097,#000099,#0000a6,#0000ca,#0000d3,#0000bf,#0000ae,#0000ad,#0000b1,#0000ab,#00009b,#000095,#00009c,#0000b2,#0000bf,#0000af,#00009e,#000098,#0000a1,#0000bc,#0000d8,#0000da,#0000c7,#0000bf,#0000e0,#0000e0,#0000b0,#00009a,#000092,#000090,#00008e,#00008d)"></i>
<i style="left:287px;width:7px;background:linear-gradient(#00008c,#00008d,#00008f,#000092,#000097,#0000a2,#0000b8,#0000e6,#0046ff,#000fff,#002cff,#0073ff,#0067ff,#0005ff,#0000b8,#0000b3,#000aff,#48ffb7,#fcff03,#005dff,#0000e4,#2dffd2,#ffb300,#fc0000,#910000,#860000,#ae0000,#e70000,#e30000,#d70000,#a00000,#820000,#9e0000,#a00000,#890000,#cf0000,#fa0000,#ff1a00,#ff3500,#ff1100,#e50000,#b80000,#b10000,#ab0000,#c00000,#ff0c00,#ff8100,#ff9b00,#ff9700,#ff7200,#ff0b00,#b00000,#8f0000,#980000,#f40000,#ff5a00,#ff7700,#ff8300,#ff8a00,#ffb200,#e3ff1c,#c0ff3f,#a0ff5f,#7aff85,#50ffaf,#26ffd9,#01fffe,#00e6ff,#00cdff,#00b7ff,#00a0ff,#0081ff,#0069ff,#0057ff,#0049ff,#003cff,#0033ff,#002fff,#0020ff,#0001ff,#0000a7,#000097,#0000b1,#0000cf,#0000d7,#0000de,#0000dd,#0000d2,#0000cf,#0000cb,#0000c4,#0000bd,#0000b3,#000091,#00009b,#0000a6,#0000b1,#0000b4,#0000ac,#0000a2,#00009c,#00009c,#00009e,#00009f,#000098,#000099,#0000a5,#0000cb,#0000d4,#0000c2,#0000ae,#0000ab,#0000a9,#0000a4,#000099,#000094,#00009a,#0000ae,#0000b9,#0000ad,#00009e,#000098,#0000a1,#0000bd,#0000d8,#0000da,#0000c7,#0000c2,#0000e6,#0000e7,#0000b4,#00009b,#000091,#00008f,#00008e,#00008c)"></i>
<i style="left:294px;width:6px;background:linear-gradient(#00008d,#00008e,#00008f,#000093,#000097,#0000a1,#0000b4,#0000dd,#0034ff,#001fff,#005bff,#009fff,#0071ff,#0000fa,#0000b1,#0000b4,#0019ff,#99ff66,#ff8900,#0079ff,#0000ef,#96ff69,#ff2d00,#a40000,#810000,#bf0000,#ff1000,#ff6200,#ff5b00,#ff4900,#f40000,#8e0000,#800000,#800000,#c30000,#ff3c00,#ff7400,#ff9b00,#ffba00,#ff9000,#ff5b00,#ff1b00,#ff0f00,#ff0500,#ff2700,#ff8b00,#f3ff0c,#d5ff2a,#d5ff2a,#feff01,#ff8b00,#ff1100,#d50000,#e80000,#ff7100,#ffe600,#faff05,#ebff14,#e2ff1d,#b9ff46,#53ffac,#35ffca,#1bffe4,#00f9ff,#00d3ff,#00aeff,#008eff,#0079ff,#0065ff,#0057ff,#0048ff,#002dff,#001bff,#0010ff,#0009ff,#0003ff,#0001ff,#0003ff,#0000f8,#0000db,#0000a0,#000097,#0000a9,#0000bd,#0000c4,#0000cc,#0000cd,#0000c0,#0000bd,#0000b8,#0000b1,#0000ab,#0000a4,#000090,#000096,#0000a0,#0000ab,#0000ae,#0000a6,#00009c,#000097,#000097,#00009a,#00009c,#000099,#000099,#0000a6,#0000cd,#0000d7,#0000c5,#0000b0,#0000aa,#0000a4,#0000a0,#000099,#000094,#000099,#0000aa,#0000b4,#0000aa,#00009d,#000098,#0000a1,#0000bc,#0000d7,#0000d8,#0000c8,#0000c4,#0000eb,#0000ec,#0000b7,#00009b,#000091,#00008f,#00008d,#00008c)"></i>
<i style="left:300px;width:6px;background:linear-gradient(#00008d,#00008e,#000090,#000094,#000098,#0000a0,#0000b0,#0000d5,#0026ff,#003aff,#0094ff,#00c7ff,#0072ff,#0000ed,#0000ab,#0000b4,#0023ff,#d0ff2f,#ff3600,#008dff,#0000f9,#feff01,#be0000,#800000,#ac0000,#ff2a00,#ff9400,#fff300,#ffeb00,#ffd500,#ff6f00,#d00000,#990000,#960000,#ff2a00,#ffc100,#fffc00,#d5ff2a,#b5ff4a,#e1ff1e,#ffe600,#ff9c00,#ff8b00,#ff7e00,#ffa800,#e7ff18,#6bff94,#4bffb4,#47ffb8,#6eff91,#e3ff1c,#ff9500,#ff4900,#ff6100,#fdff02,#8aff75,#6fff90,#5cffa3,#52ffad,#2cffd3,#00d2ff,#00bbff,#00a9ff,#008fff,#0070ff,#0051ff,#0037ff,#0025ff,#0016ff,#0012ff,#0009ff,#0000f1,#0000e4,#0000df,#0000de,#0000dd,#0000e0,#0000e6,#0000de,#0000c4,#00009c,#000097,#0000a4,#0000b1,#0000b7,#0000c1,#0000c3,#0000b6,#0000b2,#0000ac,#0000a6,#0000a1,#00009b,#00008f,#000094,#00009d,#0000a8,#0000ab,#0000a3,#000099,#000094,#000094,#000099,#00009c,#00009b,#00009a,#0000a7,#0000cf,#0000da,#0000c8,#0000b1,#0000aa,#0000a1,#00009e,#000099,#000095,#000098,#0000a5,#0000ae,#0000a7,#00009d,#000098,#0000a1,#0000bc,#0000d5,#0000d7,#0000c7,#0000c5,#0000ed,#0000ef,#0000bb,#00009c,#000090,#00008e,#00008d,#00008c)"></i>
<i style="left:306px;width:6px;background:linear-gradient(#00008d,#00008f,#000091,#000095,#000099,#00009f,#0000ae,#0000cf,#0020ff,#0064ff,#00d7ff,#00e7ff,#0069ff,#0000de,#0000a6,#0000b4,#0027ff,#e2ff1d,#ff1b00,#0095ff,#0003ff,#ffa600,#800000,#950000,#ff0c00,#ffb300,#d6ff29,#77ff88,#7fff80,#98ff67,#fffc00,#ff3f00,#e60000,#de0000,#ffac00,#b2ff4d,#7cff83,#4dffb2,#2effd1,#56ffa9,#8aff75,#d4ff2b,#e9ff16,#f7ff08,#caff35,#5cffa3,#00f0ff,#00d0ff,#00c8ff,#00ecff,#56ffa9,#d7ff28,#ffd500,#fff000,#6dff92,#09fff6,#00f2ff,#00dbff,#00d0ff,#00b1ff,#0069ff,#005bff,#0051ff,#003fff,#0026ff,#000dff,#0000f7,#0000ea,#0000df,#0000e2,#0000de,#0000ca,#0000c1,#0000c0,#0000c3,#0000c6,#0000cc,#0000d4,#0000ce,#0000b5,#000099,#000097,#0000a1,#0000aa,#0000b0,#0000bb,#0000bf,#0000b0,#0000ac,#0000a6,#0000a0,#00009b,#000096,#00008f,#000093,#00009c,#0000a6,#0000a9,#0000a2,#000098,#000093,#000094,#000099,#00009e,#00009e,#00009c,#0000a8,#0000d1,#0000dd,#0000cc,#0000b3,#0000ab,#0000a0,#00009e,#00009b,#000097,#000098,#0000a1,#0000a8,#0000a4,#00009c,#000098,#0000a1,#0000ba,#0000d3,#0000d4,#0000c6,#0000c4,#0000ec,#0000f0,#0000bd,#00009d,#000090,#00008e,#00008d,#00008c)"></i>
<i style="left:312px;width:7px;background:linear-gradient(#00008e,#000090,#000093,#000097,#00009b,#0000a0,#0000ad,#0000cd,#0025ff,#009fff,#23ffdc,#00ffff,#0058ff,#0000cf,#0000a2,#0000b3,#0024ff,#cbff34,#ff4000,#0092ff,#000aff,#ff6300,#800000,#e10000,#ff8f00,#b6ff49,#45ffba,#00efff,#00f7ff,#10ffef,#74ff8b,#ffc800,#ff5a00,#ff4e00,#c7ff38,#31ffce,#07fff8,#00d5ff,#00b9ff,#00d9ff,#06fff9,#4affb5,#60ff9f,#6eff91,#41ffbe,#00ddff,#0089ff,#006dff,#0063ff,#0081ff,#00d7ff,#48ffb7,#95ff6a,#7cff83,#00ebff,#009eff,#008fff,#0075ff,#0068ff,#0050ff,#001bff,#0014ff,#0011ff,#0006ff,#0000f2,#0000de,#0000ce,#0000c4,#0000bd,#0000c5,#0000c4,#0000b1,#0000ab,#0000ad,#0000b3,#0000b9,#0000c0,#0000c8,#0000c2,#0000ac,#000098,#000098,#0000a1,#0000a5,#0000ab,#0000b8,#0000bd,#0000ae,#0000a9,#0000a2,#00009c,#000098,#000094,#00008f,#000093,#00009b,#0000a5,#0000a8,#0000a1,#000097,#000092,#000094,#00009b,#0000a1,#0000a1,#00009e,#0000aa,#0000d3,#0000df,#0000cf,#0000b4,#0000ad,#0000a0,#0000a0,#00009e,#000099,#000098,#00009e,#0000a3,#0000a2,#00009c,#000098,#0000a1,#0000b9,#0000d0,#0000d2,#0000c4,#0000c2,#0000e8,#0000ee,#0000be,#00009d,#000090,#00008d,#00008c,#00008c)"></i>
<i style="left:319px;width:6px;background:linear-gradient(#00008e,#000091,#000094,#000099,#00009d,#0000a1,#0000ad,#0000cf,#0038ff,#00edff,#72ff8d,#0bfff4,#0041ff,#0000c1,#00009f,#0000b0,#0019ff,#90ff6f,#ff9a00,#0082ff,#000fff,#ff3d00,#800000,#ff5600,#dbff24,#27ffd8,#00c3ff,#007eff,#0086ff,#009cff,#00f2ff,#a6ff59,#ffe200,#ffd100,#44ffbb,#00c5ff,#00a9ff,#0078ff,#005eff,#0075ff,#0096ff,#00ceff,#00e3ff,#00edff,#00c3ff,#0073ff,#0038ff,#0022ff,#0019ff,#0030ff,#0071ff,#00c8ff,#0dfff2,#00f7ff,#0082ff,#004eff,#0046ff,#0028ff,#001aff,#0008ff,#0000e4,#0000e3,#0000e5,#0000e0,#0000d2,#0000c1,#0000b5,#0000ad,#0000a8,#0000b4,#0000b5,#0000a3,#00009f,#0000a3,#0000aa,#0000b2,#0000b9,#0000bf,#0000b8,#0000a5,#000096,#000099,#0000a2,#0000a3,#0000a7,#0000b6,#0000bc,#0000ad,#0000a8,#0000a1,#00009b,#000097,#000093,#000090,#000093,#00009b,#0000a4,#0000a8,#0000a1,#000097,#000093,#000095,#00009d,#0000a4,#0000a5,#0000a1,#0000ab,#0000d5,#0000e2,#0000d2,#0000b6,#0000ae,#0000a2,#0000a4,#0000a3,#00009d,#000099,#00009b,#0000a0,#0000a0,#00009c,#000098,#0000a1,#0000b7,#0000cd,#0000cf,#0000c2,#0000be,#0000e2,#0000ea,#0000bd,#00009d,#00008f,#00008d,#00008c,#00008c)"></i>
<i style="left:325px;width:6px;background:linear-gradient(#00008f,#000092,#000096,#00009c,#0000a0,#0000a3,#0000ae,#0000d6,#005aff,#4cffb3,#bdff42,#08fff7,#0026ff,#0000b5,#00009c,#0000ad,#0009ff,#3effc1,#e8ff17,#0068ff,#0010ff,#ff3600,#c30000,#ffe100,#4bffb4,#00abff,#005cff,#0029ff,#002fff,#0043ff,#0088ff,#1fffe0,#92ff6d,#a6ff59,#00d3ff,#0072ff,#0064ff,#0033ff,#001cff,#002aff,#0040ff,#006bff,#007cff,#0081ff,#005cff,#001fff,#0000fa,#0000ec,#0000e4,#0000f7,#0024ff,#0063ff,#0098ff,#008aff,#0033ff,#0017ff,#0014ff,#0000f3,#0000e3,#0000d6,#0000c1,#0000c4,#0000cb,#0000ca,#0000be,#0000b1,#0000a7,#0000a1,#00009d,#0000ab,#0000ae,#00009b,#000098,#00009c,#0000a5,#0000ae,#0000b4,#0000b7,#0000b0,#0000a0,#000095,#00009b,#0000a4,#0000a1,#0000a5,#0000b5,#0000bc,#0000ad,#0000a7,#0000a0,#00009a,#000097,#000093,#000090,#000093,#00009b,#0000a4,#0000a7,#0000a1,#000097,#000093,#000096,#00009f,#0000a7,#0000a8,#0000a3,#0000ac,#0000d6,#0000e4,#0000d5,#0000b7,#0000b1,#0000a4,#0000a8,#0000a9,#0000a2,#00009b,#000099,#00009c,#00009e,#00009b,#000098,#0000a0,#0000b5,#0000ca,#0000cd,#0000bf,#0000ba,#0000d9,#0000e3,#0000bb,#00009d,#00008f,#00008d,#00008c,#00008c)"></i>
<i style="left:331px;width:6px;background:linear-gradient(#000090,#000094,#000098,#00009f,#0000a3,#0000a5,#0000b2,#0000e3,#008aff,#b2ff4d,#fcff03,#00f8ff,#000bff,#0000ab,#00009b,#0000aa,#0000f4,#00e2ff,#63ff9c,#0047ff,#000dff,#ff4a00,#ff2100,#8fff70,#00caff,#0049ff,#000fff,#0000eb,#0000f2,#0004ff,#0037ff,#00abff,#14ffeb,#2bffd4,#007bff,#0038ff,#0034ff,#0004ff,#0000ed,#0000f5,#0003ff,#0021ff,#002eff,#002eff,#000fff,#0000e3,#0000d1,#0000c9,#0000c4,#0000d2,#0000ee,#0017ff,#003fff,#0037ff,#0000fb,#0000f3,#0000f5,#0000d2,#0000c0,#0000b7,#0000ab,#0000b1,#0000bb,#0000bd,#0000b4,#0000a8,#0000a0,#00009b,#000097,#0000a7,#0000aa,#000097,#000094,#000099,#0000a2,#0000ab,#0000b0,#0000b1,#0000a9,#00009b,#000095,#00009e,#0000a7,#0000a1,#0000a3,#0000b4,#0000bc,#0000ad,#0000a7,#00009f,#00009a,#000098,#000094,#000091,#000094,#00009b,#0000a4,#0000a7,#0000a1,#000097,#000093,#000098,#0000a2,#0000ab,#0000ab,#0000a4,#0000ad,#0000d5,#0000e4,#0000d7,#0000b9,#0000b3,#0000a8,#0000af,#0000b1,#0000a8,#00009e,#000099,#00009a,#00009d,#00009b,#000098,#0000a0,#0000b3,#0000c7,#0000ca,#0000bd,#0000b5,#0000d0,#0000da,#0000b8,#00009b,#00008f,#00008d,#00008c,#00008c)"></i>
<i style="left:337px;width:7px;background:linear-gradient(#000091,#000096,#00009a,#0000a2,#0000a7,#0000a9,#0000b7,#0000f5,#00c3ff,#ffec00,#ffdb00,#00dcff,#0000f0,#0000a4,#00009b,#0000a6,#0000df,#008cff,#00e5ff,#0024ff,#0005ff,#ff7800,#ff8c00,#0cfff3,#0062ff,#0001ff,#0000d9,#0000c4,#0000ca,#0000d9,#0000fe,#0052ff,#00aaff,#00c2ff,#003bff,#0011ff,#0014ff,#0000e5,#0000d0,#0000d2,#0000d9,#0000ed,#0000f7,#0000f4,#0000d9,#0000bd,#0000b6,#0000b3,#0000b2,#0000bc,#0000cb,#0000e2,#0000fd,#0000fa,#0000d7,#0000dd,#0000e3,#0000be,#0000ab,#0000a5,#00009f,#0000a7,#0000b2,#0000b7,#0000b0,#0000a4,#00009d,#000099,#000094,#0000a5,#0000a9,#000095,#000092,#000097,#0000a0,#0000aa,#0000ae,#0000ab,#0000a3,#000098,#000094,#0000a2,#0000ac,#0000a1,#0000a1,#0000b3,#0000bc,#0000ad,#0000a7,#00009f,#00009a,#000099,#000095,#000092,#000094,#00009b,#0000a4,#0000a7,#0000a1,#000098,#000094,#000099,#0000a4,#0000ad,#0000ad,#0000a6,#0000ad,#0000d4,#0000e4,#0000d8,#0000ba,#0000b5,#0000ab,#0000b6,#0000ba,#0000af,#0000a1,#000098,#000099,#00009c,#00009b,#000099,#00009f,#0000b2,#0000c6,#0000c9,#0000bb,#0000b0,#0000c6,#0000d0,#0000b3,#00009a,#00008e,#00008c,#00008c,#00008c)"></i>
<i style="left:344px;width:6px;background:linear-gradient(#000092,#000098,#00009d,#0000a5,#0000ab,#0000ac,#0000be,#000cff,#00feff,#ffa400,#ffd400,#00b6ff,#0000d9,#00009f,#00009b,#0000a3,#0000cc,#0042ff,#007eff,#0003ff,#0000f9,#ffbe00,#fffe00,#009cff,#0014ff,#0000d0,#0000b7,#0000ac,#0000b2,#0000c0,#0000da,#0013ff,#0059ff,#0071ff,#0010ff,#0000f7,#0000fe,#0000d2,#0000be,#0000bd,#0000bf,#0000cd,#0000d4,#0000ce,#0000b9,#0000a6,#0000a6,#0000a7,#0000a9,#0000b1,#0000b7,#0000c0,#0000d2,#0000d2,#0000c1,#0000d2,#0000da,#0000b4,#0000a0,#00009a,#000098,#0000a1,#0000ae,#0000b4,#0000ae,#0000a3,#00009d,#000099,#000093,#0000a4,#0000a9,#000093,#000091,#000096,#00009f,#0000a9,#0000ac,#0000a6,#00009d,#000095,#000094,#0000a6,#0000b1,#0000a1,#00009f,#0000b1,#0000bb,#0000ad,#0000a7,#00009f,#00009b,#00009a,#000096,#000093,#000095,#00009b,#0000a3,#0000a6,#0000a0,#000098,#000095,#00009a,#0000a6,#0000b0,#0000af,#0000a7,#0000ad,#0000d2,#0000e2,#0000d8,#0000ba,#0000b8,#0000af,#0000bd,#0000c4,#0000b7,#0000a5,#000099,#000098,#00009c,#00009b,#000099,#00009e,#0000b0,#0000c4,#0000c8,#0000b9,#0000ab,#0000bd,#0000c6,#0000ad,#000098,#00008e,#00008c,#00008c,#00008c)"></i>
<i style="left:350px;width:6px;background:linear-gradient(#000094,#00009a,#00009f,#0000a8,#0000ae,#0000b0,#0000c7,#0025ff,#30ffcf,#ff8000,#fff200,#0089ff,#0000c6,#00009b,#00009b,#0000a0,#0000bc,#0009ff,#002fff,#0000e4,#0000eb,#e6ff19,#8eff71,#0045ff,#0000dd,#0000b2,#0000a4,#00009f,#0000a6,#0000b2,#0000c6,#0000e9,#0020ff,#0037ff,#0000f4,#0000e9,#0000ef,#0000c6,#0000b3,#0000af,#0000af,#0000b9,#0000bf,#0000b8,#0000a6,#00009a,#00009c,#0000a1,#0000a6,#0000ab,#0000ab,#0000ac,#0000b6,#0000b8,#0000b3,#0000cc,#0000d6,#0000af,#00009a,#000095,#000095,#00009e,#0000ac,#0000b4,#0000ae,#0000a5,#00009f,#00009a,#000092,#0000a4,#0000a9,#000093,#000090,#000095,#00009e,#0000a8,#0000aa,#0000a3,#000099,#000092,#000095,#0000aa,#0000b5,#0000a1,#00009e,#0000b0,#0000ba,#0000ac,#0000a7,#00009f,#00009b,#00009c,#000098,#000095,#000096,#00009c,#0000a3,#0000a6,#0000a0,#000098,#000095,#00009b,#0000a7,#0000b1,#0000b1,#0000a7,#0000ac,#0000cf,#0000df,#0000d7,#0000bb,#0000ba,#0000b2,#0000c4,#0000cd,#0000be,#0000a9,#00009a,#000097,#00009c,#00009c,#000099,#00009e,#0000af,#0000c4,#0000c8,#0000b7,#0000a7,#0000b4,#0000bc,#0000a8,#000096,#00008e,#00008c,#00008c,#00008c)"></i>
<i style="left:356px;width:6px;background:linear-gradient(#000095,#00009c,#0000a1,#0000ab,#0000b1,#0000b4,#0000cf,#003bff,#51ffae,#ff8900,#ceff31,#005bff,#0000b7,#00009a,#00009c,#00009e,#0000af,#0000de,#0000f6,#0000cb,#0000db,#7eff81,#20ffdf,#0005ff,#0000bb,#0000a0,#000099,#000099,#0000a0,#0000ac,#0000bc,#0000d2,#0000f9,#0010ff,#0000e5,#0000e1,#0000e4,#0000be,#0000ac,#0000a7,#0000a6,#0000ad,#0000b2,#0000ab,#00009b,#000093,#000097,#00009e,#0000a6,#0000aa,#0000a5,#0000a0,#0000a5,#0000a8,#0000ab,#0000c9,#0000d5,#0000ad,#000097,#000092,#000093,#00009c,#0000ab,#0000b4,#0000b0,#0000a7,#0000a1,#00009c,#000092,#0000a5,#0000a9,#000092,#00008f,#000094,#00009d,#0000a7,#0000a9,#0000a0,#000096,#000090,#000095,#0000ac,#0000b9,#0000a2,#00009c,#0000ae,#0000b9,#0000ab,#0000a7,#00009f,#00009c,#00009e,#00009c,#000097,#000098,#00009c,#0000a3,#0000a5,#0000a0,#000098,#000096,#00009c,#0000a9,#0000b2,#0000b1,#0000a7,#0000ab,#0000cb,#0000db,#0000d6,#0000bb,#0000bb,#0000b5,#0000c9,#0000d4,#0000c4,#0000ad,#00009b,#000097,#00009c,#00009d,#000099,#00009d,#0000ae,#0000c4,#0000c9,#0000b6,#0000a4,#0000ad,#0000b3,#0000a2,#000094,#00008d,#00008c,#00008c,#00008c)"></i>
<i style="left:362px;width:7px;background:linear-gradient(#000097,#00009e,#0000a4,#0000ad,#0000b4,#0000b7,#0000d6,#004dff,#5affa5,#ffbc00,#79ff86,#002dff,#0000ab,#000099,#00009d,#00009d,#0000a5,#0000c2,#0000d1,#0000b9,#0000cb,#10ffef,#00baff,#0000d8,#0000a6,#000096,#000094,#000097,#00009e,#0000ab,#0000ba,#0000c8,#0000e3,#0000f5,#0000dd,#0000de,#0000dc,#0000b8,#0000a7,#0000a1,#0000a0,#0000a6,#0000ab,#0000a4,#000096,#000090,#000095,#00009d,#0000a7,#0000ab,#0000a3,#00009a,#00009b,#00009e,#0000a6,#0000c7,#0000d4,#0000ac,#000096,#000091,#000092,#00009b,#0000ab,#0000b5,#0000b1,#0000aa,#0000a5,#00009f,#000093,#0000a5,#0000a9,#000092,#00008f,#000093,#00009d,#0000a7,#0000a8,#00009f,#000094,#00008f,#000095,#0000ae,#0000bb,#0000a2,#00009b,#0000ac,#0000b7,#0000aa,#0000a6,#00009f,#00009d,#0000a1,#0000a1,#00009c,#00009a,#00009d,#0000a2,#0000a5,#00009f,#000098,#000096,#00009d,#0000aa,#0000b3,#0000b2,#0000a7,#0000aa,#0000c6,#0000d7,#0000d3,#0000ba,#0000bb,#0000b6,#0000cc,#0000d8,#0000c8,#0000af,#00009b,#000097,#00009d,#00009f,#000099,#00009d,#0000ad,#0000c4,#0000c9,#0000b5,#0000a2,#0000a7,#0000ab,#00009d,#000092,#00008d,#00008c,#00008c,#00008c)"></i>
<i style="left:369px;width:6px;background:linear-gradient(#000099,#0000a1,#0000a6,#0000b0,#0000b7,#0000b9,#0000dc,#0057ff,#4cffb3,#efff10,#1affe5,#0004ff,#0000a3,#000099,#00009e,#00009d,#0000a0,#0000b1,#0000ba,#0000ac,#0000bc,#00a6ff,#0064ff,#0000bc,#00009a,#000092,#000093,#000098,#00009f,#0000ac,#0000bb,#0000c6,#0000d6,#0000e5,#0000da,#0000dd,#0000d5,#0000b4,#0000a3,#00009d,#00009c,#0000a1,#0000a6,#0000a0,#000094,#00008f,#000093,#00009e,#0000aa,#0000ac,#0000a2,#000097,#000095,#000098,#0000a2,#0000c5,#0000d3,#0000ac,#000095,#000090,#000091,#00009a,#0000aa,#0000b5,#0000b3,#0000af,#0000aa,#0000a2,#000093,#0000a5,#0000a9,#000092,#00008e,#000093,#00009c,#0000a7,#0000a9,#00009e,#000093,#00008e,#000095,#0000ae,#0000bb,#0000a1,#000099,#0000aa,#0000b4,#0000a8,#0000a5,#00009f,#00009f,#0000a6,#0000a9,#0000a3,#00009e,#00009e,#0000a2,#0000a4,#00009f,#000098,#000096,#00009e,#0000aa,#0000b3,#0000b2,#0000a7,#0000a8,#0000c1,#0000d1,#0000d0,#0000b9,#0000bb,#0000b6,#0000cc,#0000d8,#0000c9,#0000b1,#00009c,#000097,#00009e,#0000a1,#00009a,#00009c,#0000ad,#0000c5,#0000cb,#0000b5,#0000a0,#0000a2,#0000a4,#000099,#000090,#00008d,#00008c,#00008c,#00008c)"></i>
<i style="left:375px;width:6px;background:linear-gradient(#00009c,#0000a4,#0000a9,#0000b2,#0000b9,#0000bb,#0000e1,#005bff,#2affd5,#89ff76,#00baff,#0000e1,#00009d,#000099,#0000a0,#00009e,#00009d,#0000a8,#0000ae,#0000a4,#0000af,#004dff,#001eff,#0000ab,#000095,#000090,#000094,#00009b,#0000a2,#0000af,#0000bf,#0000ca,#0000d0,#0000dc,#0000da,#0000de,#0000d0,#0000b0,#0000a0,#00009a,#000099,#00009f,#0000a4,#00009f,#000093,#00008f,#000093,#00009f,#0000ac,#0000af,#0000a3,#000096,#000093,#000095,#0000a0,#0000c4,#0000d2,#0000ab,#000095,#000090,#000091,#000099,#0000a9,#0000b5,#0000b5,#0000b3,#0000b0,#0000a6,#000094,#0000a5,#0000a9,#000091,#00008e,#000093,#00009d,#0000a9,#0000aa,#00009e,#000092,#00008e,#000096,#0000ae,#0000bb,#0000a0,#000098,#0000a8,#0000b2,#0000a7,#0000a4,#00009e,#0000a0,#0000ab,#0000b3,#0000ae,#0000a6,#0000a1,#0000a1,#0000a3,#00009e,#000097,#000096,#00009e,#0000ab,#0000b4,#0000b1,#0000a6,#0000a6,#0000bc,#0000cb,#0000cc,#0000b7,#0000ba,#0000b4,#0000c8,#0000d4,#0000c6,#0000b1,#00009c,#000097,#00009f,#0000a3,#00009a,#00009c,#0000ac,#0000c5,#0000cc,#0000b5,#00009f,#00009e,#00009f,#000095,#00008f,#00008c,#00008c,#00008c,#00008c)"></i>
<i style="left:381px;width:6px;background:linear-gradient(#00009e,#0000a7,#0000ac,#0000b5,#0000bb,#0000bd,#0000e5,#0059ff,#00faff,#20ffdf,#0068ff,#0000c7,#000099,#00009b,#0000a2,#00009f,#00009c,#0000a4,#0000a8,#0000a0,#0000a5,#0008ff,#0000ea,#0000a1,#000092,#000091,#000099,#0000a1,#0000a6,#0000b2,#0000c5,#0000d0,#0000ce,#0000d6,#0000db,#0000e0,#0000cc,#0000ad,#00009d,#000098,#000097,#00009e,#0000a5,#0000a0,#000094,#00008f,#000093,#0000a0,#0000af,#0000b1,#0000a4,#000096,#000092,#000094,#00009f,#0000c2,#0000d1,#0000ab,#000096,#000090,#000090,#000099,#0000a8,#0000b4,#0000b6,#0000b8,#0000b5,#0000a9,#000094,#0000a4,#0000a8,#000091,#00008e,#000093,#00009f,#0000ad,#0000ad,#00009f,#000092,#00008e,#000098,#0000ad,#0000bb,#00009f,#000097,#0000a6,#0000af,#0000a5,#0000a3,#00009e,#0000a1,#0000b1,#0000c2,#0000bf,#0000b2,#0000a6,#0000a1,#0000a2,#00009d,#000097,#000097,#00009e,#0000ab,#0000b4,#0000b2,#0000a6,#0000a4,#0000b7,#0000c5,#0000c7,#0000b5,#0000b8,#0000b0,#0000c3,#0000cd,#0000c1,#0000af,#00009c,#000096,#0000a0,#0000a6,#00009b,#00009b,#0000ac,#0000c6,#0000cd,#0000b5,#00009f,#00009c,#00009b,#000093,#00008e,#00008c,#00008c,#00008c,#00008c)"></i>
<i style="left:387px;width:7px;background:linear-gradient(#0000a1,#0000aa,#0000b0,#0000b9,#0000bd,#0000bf,#0000e7,#0052ff,#00c7ff,#00c1ff,#0027ff,#0000b4,#000098,#00009d,#0000a5,#0000a1,#00009e,#0000a5,#0000a8,#00009f,#00009f,#0000d6,#0000c7,#00009c,#000091,#000093,#0000a0,#0000aa,#0000ab,#0000b7,#0000cb,#0000d6,#0000ce,#0000d1,#0000dc,#0000e1,#0000c8,#0000aa,#00009b,#000095,#000096,#00009e,#0000a7,#0000a4,#000097,#000090,#000094,#0000a2,#0000b2,#0000b3,#0000a5,#000096,#000092,#000093,#00009d,#0000c0,#0000cf,#0000ab,#000096,#000090,#000090,#000098,#0000a7,#0000b2,#0000b7,#0000bd,#0000bb,#0000ad,#000095,#0000a4,#0000a8,#000091,#00008e,#000094,#0000a2,#0000b1,#0000b0,#0000a0,#000092,#00008d,#00009e,#0000b0,#0000bd,#00009d,#000095,#0000a3,#0000ac,#0000a3,#0000a2,#00009e,#0000a3,#0000b8,#0000d6,#0000db,#0000ca,#0000b0,#0000a1,#0000a1,#00009c,#000096,#000096,#00009e,#0000ab,#0000b4,#0000b2,#0000a6,#0000a2,#0000b2,#0000be,#0000c3,#0000b3,#0000b6,#0000ac,#0000bb,#0000c4,#0000bb,#0000ad,#00009b,#000096,#0000a1,#0000a8,#00009b,#00009b,#0000ac,#0000c7,#0000cf,#0000b7,#0000a1,#00009c,#000099,#000091,#00008d,#00008c,#00008c,#00008c,#00008c)"></i>
<i style="left:394px;width:6px;background:linear-gradient(#0000a4,#0000ae,#0000b4,#0000bc,#0000bf,#0000c0,#0000e9,#0047ff,#0097ff,#0077ff,#0000f8,#0000a8,#000097,#0000a0,#0000a9,#0000a4,#0000a0,#0000a9,#0000ab,#00009f,#00009b,#0000b8,#0000b1,#000099,#000091,#000096,#0000ac,#0000b8,#0000b3,#0000bb,#0000d0,#0000db,#0000ce,#0000ce,#0000dc,#0000e1,#0000c4,#0000a7,#000099,#000094,#000095,#00009f,#0000ab,#0000aa,#00009b,#000091,#000094,#0000a3,#0000b4,#0000b5,#0000a6,#000097,#000093,#000094,#00009d,#0000bd,#0000cc,#0000aa,#000096,#000090,#000090,#000097,#0000a4,#0000b0,#0000b7,#0000c1,#0000c1,#0000b1,#000095,#0000a3,#0000a7,#000091,#00008e,#000095,#0000a5,#0000b5,#0000b3,#0000a1,#000092,#00008d,#0000a9,#0000b9,#0000c4,#00009c,#000094,#0000a1,#0000a9,#0000a1,#0000a1,#00009d,#0000a3,#0000bf,#0000f3,#0008ff,#0000f3,#0000c2,#0000a3,#00009f,#00009b,#000096,#000096,#00009e,#0000ab,#0000b5,#0000b3,#0000a6,#0000a1,#0000ad,#0000b9,#0000be,#0000b1,#0000b3,#0000a8,#0000b3,#0000b9,#0000b3,#0000ab,#00009b,#000095,#0000a1,#0000a9,#00009b,#00009b,#0000ac,#0000c8,#0000d0,#0000b9,#0000a4,#00009d,#000098,#000090,#00008d,#00008c,#00008c,#00008c,#00008c)"></i>
<i style="left:400px;width:6px;background:linear-gradient(#0000a7,#0000b1,#0000b8,#0000c0,#0000c1,#0000c2,#0000ea,#003aff,#006fff,#0043ff,#0000db,#0000a2,#000098,#0000a4,#0000ad,#0000a7,#0000a4,#0000ae,#0000b0,#0000a2,#00009a,#0000a8,#0000a5,#000097,#000091,#00009c,#0000bd,#0000cc,#0000bd,#0000c0,#0000d5,#0000dd,#0000cd,#0000cb,#0000d9,#0000df,#0000c0,#0000a4,#000097,#000092,#000094,#0000a0,#0000b0,#0000b0,#00009f,#000093,#000094,#0000a3,#0000b5,#0000b7,#0000a6,#000098,#000095,#000095,#00009c,#0000bb,#0000c9,#0000aa,#000096,#000090,#00008f,#000095,#0000a2,#0000ad,#0000b6,#0000c4,#0000c5,#0000b4,#000096,#0000a2,#0000a6,#000091,#00008e,#000095,#0000a5,#0000b5,#0000b3,#0000a1,#000092,#00008e,#0000be,#0000cc,#0000d5,#00009c,#000093,#00009e,#0000a6,#00009f,#00009f,#00009c,#0000a3,#0000c7,#001fff,#0050ff,#0039ff,#0000e1,#0000a5,#00009e,#00009a,#000095,#000096,#00009e,#0000aa,#0000b5,#0000b4,#0000a7,#00009f,#0000a8,#0000b3,#0000ba,#0000ae,#0000b0,#0000a3,#0000aa,#0000b0,#0000ac,#0000a8,#00009a,#000095,#0000a1,#0000a9,#00009b,#00009b,#0000ad,#0000c8,#0000d0,#0000bb,#0000a7,#00009f,#000097,#00008f,#00008d,#00008c,#00008c,#00008c,#00008c)"></i>
<i style="left:406px;width:7px;background:linear-gradient(#0000aa,#0000b5,#0000bb,#0000c3,#0000c3,#0000c2,#0000e8,#002cff,#004fff,#0022ff,#0000ca,#00009e,#000099,#0000a8,#0000b2,#0000ab,#0000a9,#0000b5,#0000b7,#0000a6,#00009a,#0000a0,#00009f,#000097,#000092,#0000a3,#0000d3,#0000e6,#0000c9,#0000c4,#0000d8,#0000de,#0000cc,#0000c7,#0000d4,#0000da,#0000bc,#0000a2,#000095,#000091,#000094,#0000a1,#0000b2,#0000b3,#0000a2,#000094,#000095,#0000a4,#0000b6,#0000b7,#0000a7,#000099,#000096,#000096,#00009b,#0000b8,#0000c6,#0000a9,#000097,#000090,#00008f,#000094,#00009f,#0000a9,#0000b5,#0000c6,#0000c9,#0000b7,#000096,#0000a1,#0000a5,#000091,#00008e,#000095,#0000a3,#0000b2,#0000b1,#0000a0,#000092,#00008e,#0000e1,#0000ee,#0000f3,#00009d,#000092,#00009c,#0000a2,#00009d,#00009e,#00009b,#0000a1,#0000d1,#0060ff,#00bfff,#00a4ff,#0012ff,#0000aa,#00009d,#000099,#000095,#000095,#00009d,#0000aa,#0000b6,#0000b5,#0000a7,#00009e,#0000a5,#0000ae,#0000b5,#0000ac,#0000ad,#00009f,#0000a3,#0000a7,#0000a6,#0000a6,#00009a,#000094,#00009f,#0000a8,#00009a,#00009b,#0000ae,#0000c8,#0000cf,#0000bc,#0000a9,#0000a0,#000097,#00008f,#00008d,#00008c,#00008c,#00008c,#00008c)"></i>
<i style="left:413px;width:6px;background:linear-gradient(#0000ad,#0000b7,#0000be,#0000c5,#0000c3,#0000c2,#0000e5,#001dff,#0036ff,#000eff,#0000c1,#00009d,#00009c,#0000ae,#0000b8,#0000b0,#0000af,#0000bd,#0000bf,#0000ab,#00009d,#00009d,#00009d,#000097,#000093,#0000ac,#0000ee,#0006ff,#0000d8,#0000c9,#0000da,#0000dd,#0000ca,#0000c2,#0000ce,#0000d2,#0000b7,#0000a0,#000094,#000090,#000093,#0000a0,#0000b1,#0000b3,#0000a2,#000094,#000095,#0000a4,#0000b6,#0000b7,#0000a7,#000099,#000097,#000096,#00009b,#0000b5,#0000c3,#0000a8,#000097,#000090,#00008f,#000093,#00009c,#0000a6,#0000b3,#0000c7,#0000cb,#0000b9,#000097,#0000a0,#0000a5,#000092,#00008f,#000094,#0000a0,#0000ad,#0000ac,#00009e,#000091,#00008f,#0019ff,#0027ff,#0026ff,#0000a1,#000091,#00009a,#00009f,#00009b,#00009c,#00009a,#0000a0,#0000df,#00b9ff,#57ffa8,#37ffc8,#0054ff,#0000b1,#00009b,#000098,#000094,#000095,#00009c,#0000aa,#0000b7,#0000b7,#0000a9,#00009e,#0000a1,#0000aa,#0000b1,#0000aa,#0000ab,#00009c,#00009d,#0000a0,#0000a1,#0000a4,#000099,#000093,#00009d,#0000a5,#000099,#00009c,#0000ae,#0000c6,#0000cc,#0000ba,#0000a9,#00009f,#000096,#00008f,#00008c,#00008c,#00008c,#00008c,#00008c)"></i>
<i style="left:419px;width:6px;background:linear-gradient(#0000af,#0000b9,#0000be,#0000c4,#0000c1,#0000c1,#0000e1,#000eff,#0024ff,#0003ff,#0000be,#00009e,#00009f,#0000b3,#0000bd,#0000b4,#0000b4,#0000c4,#0000c6,#0000b0,#0000a0,#00009e,#00009c,#000097,#000094,#0000b6,#000eff,#0029ff,#0000e7,#0000cc,#0000da,#0000db,#0000c8,#0000be,#0000c6,#0000c9,#0000b3,#00009e,#000093,#000090,#000093,#00009e,#0000ad,#0000ae,#00009f,#000093,#000094,#0000a3,#0000b5,#0000b6,#0000a6,#000099,#000097,#000096,#00009a,#0000b2,#0000bf,#0000a6,#000097,#000090,#00008e,#000092,#00009a,#0000a2,#0000b0,#0000c6,#0000cc,#0000ba,#000097,#0000a0,#0000a5,#000093,#00008f,#000094,#00009d,#0000a7,#0000a7,#00009c,#000091,#000090,#0066ff,#0078ff,#006fff,#0000a8,#000090,#000098,#00009d,#000099,#00009a,#000098,#00009e,#0000f0,#26ffd9,#fff000,#e4ff1b,#00a2ff,#0000b9,#00009a,#000097,#000093,#000094,#00009b,#0000a9,#0000b7,#0000b9,#0000aa,#00009d,#00009f,#0000a6,#0000ad,#0000a8,#0000a9,#000099,#000099,#00009b,#00009e,#0000a2,#000098,#000092,#00009a,#0000a1,#000098,#00009d,#0000af,#0000c4,#0000c7,#0000b5,#0000a6,#00009d,#000095,#00008f,#00008c,#00008c,#00008c,#00008c,#00008c)"></i>
<i style="left:425px;width:6px;background:linear-gradient(#0000b2,#0000b9,#0000bc,#0000c0,#0000bd,#0000be,#0000dc,#0003ff,#0018ff,#0000fd,#0000bf,#0000a1,#0000a2,#0000b8,#0000c1,#0000b8,#0000b9,#0000cb,#0000ce,#0000b7,#0000a5,#0000a0,#00009d,#000097,#000095,#0000c0,#002dff,#004cff,#0000f7,#0000ce,#0000d8,#0000d7,#0000c4,#0000b8,#0000bd,#0000c0,#0000ae,#00009c,#000092,#000090,#000092,#00009b,#0000a6,#0000a6,#00009a,#000091,#000094,#0000a2,#0000b3,#0000b5,#0000a5,#000098,#000097,#000096,#000098,#0000ae,#0000bb,#0000a5,#000097,#000090,#00008e,#000091,#000097,#00009f,#0000ad,#0000c4,#0000cc,#0000ba,#000097,#00009f,#0000a5,#000094,#000091,#000095,#00009b,#0000a2,#0000a3,#000099,#000090,#000091,#00cdff,#00e4ff,#00d0ff,#0000b4,#000090,#000096,#00009a,#000097,#000099,#000097,#00009d,#0002ff,#95ff6a,#ff3600,#ff6c00,#00f0ff,#0000c2,#000099,#000096,#000092,#000093,#00009a,#0000a8,#0000b8,#0000ba,#0000ab,#00009d,#00009c,#0000a3,#0000aa,#0000a6,#0000a8,#000098,#000096,#000098,#00009b,#0000a1,#000098,#000091,#000097,#00009d,#000097,#00009d,#0000af,#0000c0,#0000c0,#0000ae,#0000a1,#00009a,#000093,#00008e,#00008c,#00008c,#00008c,#00008c,#00008c)"></i>
<i style="left:431px;width:7px;background:linear-gradient(#0000b3,#0000b8,#0000b7,#0000ba,#0000b8,#0000bb,#0000d7,#0000fb,#0012ff,#0000fd,#0000c5,#0000a6,#0000a5,#0000bb,#0000c5,#0000bb,#0000be,#0000d1,#0000d4,#0000bd,#0000ab,#0000a2,#00009d,#000096,#000096,#0000c9,#0049ff,#006cff,#0005ff,#0000d0,#0000d5,#0000d2,#0000bf,#0000b3,#0000b5,#0000b7,#0000a9,#00009a,#000092,#00008f,#000092,#000098,#00009f,#00009e,#000096,#000090,#000093,#0000a1,#0000b1,#0000b2,#0000a4,#000097,#000096,#000095,#000097,#0000ab,#0000b7,#0000a4,#000097,#000090,#00008e,#000090,#000095,#00009b,#0000aa,#0000c1,#0000ca,#0000ba,#000097,#00009f,#0000a6,#000096,#000093,#000098,#00009b,#00009f,#00009f,#000098,#000090,#000092,#4bffb4,#69ff96,#48ffb7,#0000c6,#00008f,#000094,#000098,#000095,#000097,#000095,#00009b,#0010ff,#edff12,#a30000,#e20000,#2effd1,#0000c8,#000098,#000094,#000092,#000092,#000099,#0000a7,#0000b8,#0000bc,#0000ad,#00009d,#00009a,#0000a0,#0000a7,#0000a6,#0000a8,#000098,#000094,#000095,#00009a,#0000a0,#000097,#000090,#000095,#00009a,#000096,#00009d,#0000ae,#0000bb,#0000b8,#0000a7,#00009b,#000096,#000092,#00008e,#00008c,#00008c,#00008c,#00008c,#00008c)"></i>
<i style="left:438px;width:6px;background:linear-gradient(#0000b5,#0000b6,#0000b2,#0000b2,#0000b1,#0000b7,#0000d6,#0000fe,#0018ff,#0006ff,#0000cf,#0000ac,#0000a8,#0000bc,#0000c6,#0000be,#0000c1,#0000d5,#0000d8,#0000c2,#0000b0,#0000a6,#00009e,#000096,#000097,#0000cf,#005dff,#0083ff,#000fff,#0000cf,#0000d0,#0000cb,#0000b9,#0000ad,#0000ad,#0000af,#0000a5,#000098,#000091,#000090,#000092,#000096,#000099,#000098,#000092,#00008f,#000093,#0000a0,#0000af,#0000b0,#0000a2,#000096,#000094,#000093,#000096,#0000a8,#0000b4,#0000a2,#000096,#000090,#00008e,#00008f,#000093,#000099,#0000a7,#0000be,#0000c7,#0000b9,#000098,#00009e,#0000a7,#000099,#000097,#00009c,#00009d,#00009d,#00009d,#000097,#00008f,#000094,#d7ff28,#fdff02,#cdff32,#0000df,#00008f,#000093,#000096,#000094,#000096,#000094,#00009a,#0015ff,#ffe800,#800000,#a30000,#4affb5,#0000cb,#000097,#000093,#000091,#000092,#000098,#0000a7,#0000b8,#0000be,#0000b0,#00009e,#000099,#00009d,#0000a5,#0000a6,#0000aa,#000098,#000092,#000094,#000099,#0000a0,#000097,#00008f,#000093,#000097,#000097,#00009d,#0000ac,#0000b5,#0000b0,#0000a1,#000097,#000093,#000090,#00008e,#00008c,#00008c,#00008c,#00008c,#00008c)"></i>
<i style="left:444px;width:6px;background:linear-gradient(#0000b6,#0000b3,#0000ab,#0000aa,#0000ab,#0000b5,#0000da,#000dff,#002eff,#001dff,#0000e1,#0000b4,#0000aa,#0000bc,#0000c5,#0000be,#0000c4,#0000d7,#0000da,#0000c6,#0000b5,#0000a9,#00009e,#000096,#000097,#0000d3,#0067ff,#008fff,#0014ff,#0000cd,#0000ca,#0000c4,#0000b3,#0000a8,#0000a7,#0000a9,#0000a1,#000097,#000091,#000090,#000092,#000095,#000096,#000094,#00008f,#00008e,#000092,#00009e,#0000ac,#0000ac,#0000a0,#000095,#000092,#000092,#000094,#0000a5,#0000b0,#0000a1,#000096,#000090,#00008e,#00008e,#000091,#000097,#0000a4,#0000b9,#0000c3,#0000b8,#000098,#00009e,#0000a7,#00009c,#00009b,#0000a2,#0000a0,#00009d,#00009c,#000096,#00008f,#000096,#ff9b00,#ff6d00,#ffac00,#0001ff,#00008e,#000092,#000094,#000092,#000095,#000093,#000098,#0013ff,#ffe800,#800000,#a10000,#4bffb4,#0000ca,#000096,#000092,#000090,#000091,#000097,#0000a6,#0000b9,#0000c1,#0000b3,#00009f,#000098,#00009b,#0000a3,#0000a6,#0000ac,#00009a,#000092,#000094,#000099,#00009f,#000096,#00008f,#000091,#000096,#000098,#00009d,#0000a9,#0000b0,#0000a9,#00009b,#000093,#000091,#000090,#00008e,#00008c,#00008c,#00008c,#00008c,#00008c)"></i>
<i style="left:450px;width:6px;background:linear-gradient(#0000b6,#0000b0,#0000a6,#0000a2,#0000a5,#0000b4,#0000e5,#002bff,#005aff,#0047ff,#0000fd,#0000bf,#0000ab,#0000b9,#0000c2,#0000be,#0000c5,#0000d7,#0000da,#0000c8,#0000b9,#0000ab,#00009f,#000096,#000097,#0000d2,#0065ff,#008dff,#0012ff,#0000ca,#0000c3,#0000bc,#0000ad,#0000a3,#0000a2,#0000a4,#00009e,#000096,#000090,#000090,#000093,#000095,#000095,#000092,#00008e,#00008d,#000091,#00009c,#0000a8,#0000a9,#00009e,#000093,#000091,#000090,#000093,#0000a2,#0000ac,#0000a0,#000096,#000090,#00008d,#00008e,#000090,#000095,#0000a2,#0000b5,#0000bf,#0000b6,#000098,#00009e,#0000a7,#00009e,#0000a0,#0000a8,#0000a4,#00009d,#00009a,#000095,#00008f,#000098,#ff2000,#e90000,#ff3600,#0029ff,#00008e,#000090,#000092,#000091,#000093,#000092,#000097,#0012ff,#ffe800,#800000,#a10000,#4bffb4,#0000c9,#000094,#000092,#000090,#000090,#000096,#0000a5,#0000b9,#0000c4,#0000b7,#0000a1,#000097,#000099,#0000a1,#0000a7,#0000af,#00009c,#000092,#000094,#000098,#00009e,#000095,#00008e,#000090,#000097,#00009a,#00009e,#0000a6,#0000aa,#0000a3,#000097,#000091,#000090,#000090,#00008e,#00008d,#00008c,#00008c,#00008c,#00008c)"></i>
<i style="left:456px;width:7px;background:linear-gradient(#0000b7,#0000ae,#0000a1,#00009c,#0000a0,#0000b6,#0000f7,#005aff,#009eff,#0087ff,#0026ff,#0000ce,#0000ac,#0000b5,#0000bd,#0000bc,#0000c4,#0000d5,#0000d8,#0000c8,#0000bb,#0000ad,#00009f,#000095,#000096,#0000cd,#0058ff,#007dff,#000bff,#0000c6,#0000bc,#0000b4,#0000a7,#00009f,#00009e,#00009f,#00009b,#000094,#000090,#000091,#000094,#000096,#000095,#000091,#00008e,#00008d,#000091,#00009a,#0000a5,#0000a6,#00009b,#000092,#00008f,#00008f,#000092,#0000a0,#0000a9,#00009e,#000095,#000090,#00008d,#00008d,#000090,#000094,#0000a0,#0000b1,#0000bb,#0000b4,#000098,#00009d,#0000a6,#0000a0,#0000a5,#0000af,#0000a8,#00009d,#000099,#000094,#00008e,#000099,#c70000,#8c0000,#e10000,#0054ff,#00008e,#00008f,#000091,#000090,#000092,#000091,#000096,#0011ff,#ffe800,#800000,#a10000,#4bffb4,#0000c9,#000093,#000091,#00008f,#000090,#000096,#0000a4,#0000b9,#0000c8,#0000bc,#0000a3,#000097,#000098,#00009f,#0000a8,#0000b2,#00009e,#000092,#000094,#000098,#00009d,#000095,#00008e,#000090,#000099,#00009e,#00009e,#0000a3,#0000a5,#00009e,#000095,#000090,#000090,#000090,#00008f,#00008d,#00008c,#00008c,#00008c,#00008c)"></i>
<i style="left:463px;width:6px;background:linear-gradient(#0000b7,#0000ac,#00009e,#000098,#00009e,#0000ba,#0010ff,#0095ff,#00f6ff,#00d9ff,#0058ff,#0000e0,#0000ae,#0000af,#0000b8,#0000b9,#0000c2,#0000d1,#0000d4,#0000c7,#0000bc,#0000ae,#00009f,#000095,#000095,#0000c6,#0040ff,#0063ff,#0000fe,#0000c1,#0000b5,#0000ac,#0000a1,#00009b,#00009a,#00009c,#000099,#000093,#000090,#000092,#000096,#000098,#000095,#000091,#00008e,#00008d,#000090,#000098,#0000a1,#0000a2,#000099,#000091,#00008e,#00008e,#000091,#00009d,#0000a6,#00009d,#000095,#000090,#00008d,#00008e,#000090,#000095,#0000a0,#0000af,#0000b8,#0000b1,#000098,#00009b,#0000a4,#0000a0,#0000a8,#0000b5,#0000ac,#00009e,#000098,#000093,#00008e,#000099,#a00000,#800000,#bc0000,#007eff,#00008d,#00008f,#000090,#00008f,#000091,#000090,#000095,#0011ff,#ffe800,#800000,#a10000,#4bffb4,#0000c8,#000093,#000090,#00008f,#00008f,#000095,#0000a3,#0000ba,#0000cc,#0000c2,#0000a6,#000097,#000097,#00009e,#0000a9,#0000b4,#0000a0,#000093,#000094,#000099,#00009c,#000094,#00008e,#000090,#00009c,#0000a4,#00009f,#0000a0,#0000a0,#00009a,#000093,#00008f,#000090,#000091,#00008f,#00008d,#00008c,#00008c,#00008c,#00008c)"></i>
<i style="left:469px;width:6px;background:linear-gradient(#0000b7,#0000aa,#00009c,#000096,#00009c,#0000bf,#002cff,#00d6ff,#56ffa9,#35ffca,#008dff,#0000f3,#0000b0,#0000aa,#0000b2,#0000b6,#0000bf,#0000cd,#0000ce,#0000c3,#0000bd,#0000b0,#00009e,#000094,#000094,#0000bc,#0023ff,#0041ff,#0000ef,#0000bb,#0000af,#0000a6,#00009c,#000097,#000098,#000099,#000097,#000092,#000090,#000093,#000097,#000099,#000096,#000091,#00008e,#00008d,#00008f,#000096,#00009e,#00009f,#000097,#000090,#00008d,#00008d,#000090,#00009b,#0000a3,#00009b,#000094,#000090,#00008e,#00008e,#000091,#000096,#0000a0,#0000ad,#0000b5,#0000af,#000097,#000099,#0000a0,#00009e,#0000aa,#0000b9,#0000af,#00009e,#000097,#000092,#00008e,#000099,#9f0000,#800000,#bb0000,#00a2ff,#00008d,#00008e,#00008f,#00008f,#000090,#00008f,#000094,#000cff,#f9ff06,#8c0000,#ce0000,#37ffc8,#0000c5,#000092,#00008f,#00008e,#00008f,#000094,#0000a2,#0000ba,#0000d0,#0000c7,#0000a9,#000096,#000096,#00009d,#0000a9,#0000b5,#0000a0,#000093,#000095,#000099,#00009b,#000093,#00008d,#000091,#0000a1,#0000aa,#0000a0,#00009e,#00009c,#000097,#000091,#00008f,#000091,#000092,#000090,#00008d,#00008c,#00008c,#00008c,#00008c)"></i>
<i style="left:475px;width:6px;background:linear-gradient(#0000b7,#0000aa,#00009d,#000097,#00009c,#0000c5,#0044ff,#11ffee,#acff53,#86ff79,#00beff,#0006ff,#0000b1,#0000a6,#0000ad,#0000b3,#0000bc,#0000c7,#0000c8,#0000bf,#0000be,#0000b2,#00009e,#000094,#000093,#0000b2,#0004ff,#001eff,#0000df,#0000b6,#0000a9,#0000a0,#000098,#000095,#000095,#000097,#000095,#000091,#000090,#000094,#000099,#00009b,#000097,#000092,#00008e,#00008d,#00008f,#000094,#00009b,#00009b,#000095,#00008f,#00008d,#00008d,#00008f,#000099,#0000a0,#00009a,#000094,#000090,#00008e,#00008f,#000093,#000098,#0000a2,#0000ac,#0000b3,#0000ad,#000097,#000097,#00009c,#00009c,#0000ab,#0000bc,#0000b1,#00009d,#000096,#000091,#00008e,#000099,#9f0000,#800000,#bb0000,#00bbff,#00008d,#00008d,#00008e,#00008e,#00008f,#00008f,#000093,#0000f7,#8fff70,#ff3d00,#ff7200,#00edff,#0000bc,#000091,#00008f,#00008e,#00008f,#000094,#0000a1,#0000ba,#0000d2,#0000cb,#0000aa,#000096,#000095,#00009c,#0000a9,#0000b4,#0000a0,#000093,#000095,#000099,#00009a,#000093,#00008d,#000092,#0000a6,#0000b0,#0000a1,#00009b,#000098,#000094,#000090,#00008f,#000091,#000093,#000091,#00008e,#00008c,#00008c,#00008c,#00008c)"></i>
<i style="left:481px;width:7px;background:linear-gradient(#0000b6,#0000ab,#0000a0,#000099,#00009c,#0000c8,#0054ff,#38ffc7,#e7ff18,#bdff42,#00dfff,#0011ff,#0000b2,#0000a2,#0000a9,#0000b0,#0000b9,#0000c2,#0000c1,#0000ba,#0000bf,#0000b5,#00009d,#000093,#000091,#0000a8,#0000e5,#0000fb,#0000d0,#0000b1,#0000a5,#00009c,#000095,#000093,#000093,#000095,#000094,#000091,#000091,#000095,#00009a,#00009c,#000099,#000092,#00008e,#00008d,#00008e,#000093,#000098,#000099,#000094,#00008f,#00008d,#00008c,#00008f,#000097,#00009e,#000099,#000093,#000090,#00008e,#000090,#000094,#00009a,#0000a3,#0000ac,#0000b1,#0000ab,#000096,#000095,#000098,#000099,#0000a9,#0000bc,#0000b1,#00009c,#000095,#000091,#00008d,#000099,#9f0000,#800000,#bb0000,#00c5ff,#00008d,#00008d,#00008e,#00008d,#00008f,#00008e,#000092,#0000dd,#00ffff,#d6ff29,#b1ff4e,#008aff,#0000af,#000090,#00008e,#00008d,#00008e,#000093,#0000a0,#0000ba,#0000d3,#0000cc,#0000ab,#000096,#000094,#00009b,#0000a7,#0000b1,#00009f,#000094,#000096,#000099,#000099,#000092,#00008d,#000093,#0000ab,#0000b5,#0000a1,#000098,#000095,#000092,#00008f,#00008f,#000092,#000094,#000091,#00008e,#00008c,#00008c,#00008c,#00008c)"></i>
<i style="left:488px;width:9px;background:linear-gradient(#0000b6,#0000ac,#0000a5,#00009d,#00009d,#0000c8,#0058ff,#42ffbd,#f7ff08,#cdff32,#00e8ff,#0014ff,#0000b2,#00009f,#0000a6,#0000af,#0000b8,#0000be,#0000bb,#0000b6,#0000c0,#0000b8,#00009d,#000092,#000090,#0000a0,#0000cc,#0000dd,#0000c2,#0000ac,#0000a1,#000098,#000093,#000091,#000092,#000093,#000092,#000090,#000091,#000095,#00009c,#00009e,#00009a,#000093,#00008e,#00008d,#00008e,#000091,#000096,#000096,#000092,#00008e,#00008c,#00008c,#00008e,#000096,#00009b,#000097,#000093,#00008f,#00008e,#000090,#000094,#00009b,#0000a3,#0000ab,#0000ae,#0000a9,#000095,#000093,#000094,#000096,#0000a7,#0000ba,#0000af,#00009b,#000093,#000090,#00008d,#000099,#9f0000,#800000,#bb0000,#00bdff,#00008d,#00008d,#00008d,#00008d,#00008e,#00008e,#000091,#0000c4,#007bff,#00f9ff,#00e1ff,#002eff,#0000a4,#00008f,#00008e,#00008d,#00008e,#000093,#00009f,#0000b8,#0000d1,#0000cb,#0000ab,#000096,#000093,#00009a,#0000a5,#0000ad,#00009e,#000094,#000097,#000099,#000098,#000091,#00008d,#000093,#0000ae,#0000ba,#0000a1,#000095,#000093,#000090,#00008e,#00008f,#000092,#000095,#000092,#00008e,#00008c,#00008c,#00008c,#00008c)"></i>
<b style="left:0;top:0;height:100%;width:39px;background:linear-gradient(90deg,#fffffffd 0.0%,#fffffffa 7.7%,#fffffff2 15.4%,#ffffffe2 23.1%,#ffffffc7 30.8%,#ffffffa2 38.5%,#ffffff77 46.2%,#ffffff4d 53.8%,#ffffff2c 61.5%,#ffffff16 69.2%,#ffffff09 76.9%,#ffffff03 84.6%,#ffffff01 92.3%,#ffffff00 100.0%)"></b><b style="right:0;top:0;height:100%;width:39px;background:linear-gradient(90deg,#ffffff00 0.0%,#ffffff00 7.7%,#ffffff01 15.4%,#ffffff05 23.1%,#ffffff0d 30.8%,#ffffff1f 38.5%,#ffffff3d 46.2%,#ffffff67 53.8%,#ffffff95 61.5%,#ffffffbf 69.2%,#ffffffde 76.9%,#fffffff1 84.6%,#fffffffa 92.3%,#fffffffe 100.0%)"></b><b style="left:0;top:0;width:100%;height:39px;background:linear-gradient(#fffffffc 0.0%,#fffffff5 7.7%,#ffffffe6 15.4%,#ffffffcb 23.1%,#ffffffa4 30.8%,#ffffff76 38.5%,#ffffff4a 46.2%,#ffffff28 53.8%,#ffffff12 61.5%,#ffffff07 69.2%,#ffffff02 76.9%,#ffffff01 84.6%,#ffffff00 92.3%,#ffffff00 100.0%)"></b><b style="left:0;bottom:0;width:100%;height:39px;background:linear-gradient(#ffffff00 0.0%,#ffffff01 7.7%,#ffffff04 15.4%,#ffffff0c 23.1%,#ffffff1b 30.8%,#ffffff34 38.5%,#ffffff58 46.2%,#ffffff82 53.8%,#ffffffac 61.5%,#ffffffcf 69.2%,#ffffffe7 76.9%,#fffffff5 84.6%,#fffffffb 92.3%,#fffffffe 100.0%)"></b>
</div>
<svg width="1890" height="1209" viewBox="0 0 1890 1209">
<g stroke="#000" stroke-width="4.6" fill="none">
<rect x="361.4" y="39.8" width="1430.8" height="843.6"/>
<line x1="361.4" y1="321.0" x2="374.2" y2="321.0"/><line x1="361.4" y1="602.2" x2="374.2" y2="602.2"/><line x1="543.4" y1="883.4" x2="543.4" y2="870.0"/><line x1="725.4" y1="883.4" x2="725.4" y2="870.0"/><line x1="907.4" y1="883.4" x2="907.4" y2="870.0"/><line x1="1089.4" y1="883.4" x2="1089.4" y2="870.0"/><line x1="1271.4" y1="883.4" x2="1271.4" y2="870.0"/><line x1="1453.4" y1="883.4" x2="1453.4" y2="870.0"/>
</g>
<g fill="#808080">
<circle cx="379.6" cy="45.4" r="9.9"/><circle cx="379.6" cy="51.0" r="9.9"/><circle cx="1326.0" cy="56.7" r="9.9"/><circle cx="379.6" cy="62.3" r="9.9"/><circle cx="379.6" cy="67.9" r="9.9"/><circle cx="379.6" cy="73.5" r="9.9"/><circle cx="379.6" cy="79.2" r="9.9"/><circle cx="1344.2" cy="84.8" r="9.9"/><circle cx="1344.2" cy="90.4" r="9.9"/><circle cx="1326.0" cy="96.0" r="9.9"/><circle cx="1289.6" cy="101.7" r="9.9"/><circle cx="1271.4" cy="107.3" r="9.9"/><circle cx="1271.4" cy="112.9" r="9.9"/><circle cx="1253.2" cy="118.5" r="9.9"/><circle cx="1253.2" cy="124.2" r="9.9"/><circle cx="1235.0" cy="129.8" r="9.9"/><circle cx="1235.0" cy="135.4" r="9.9"/><circle cx="1235.0" cy="141.0" r="9.9"/><circle cx="1235.0" cy="146.7" r="9.9"/><circle cx="1235.0" cy="152.3" r="9.9"/><circle cx="1253.2" cy="157.9" r="9.9"/><circle cx="1253.2" cy="163.5" r="9.9"/><circle cx="1271.4" cy="169.2" r="9.9"/><circle cx="1289.6" cy="174.8" r="9.9"/><circle cx="1289.6" cy="180.4" r="9.9"/><circle cx="1289.6" cy="186.0" r="9.9"/><circle cx="1271.4" cy="191.6" r="9.9"/><circle cx="1235.0" cy="197.3" r="9.9"/><circle cx="1235.0" cy="202.9" r="9.9"/><circle cx="1235.0" cy="208.5" r="9.9"/><circle cx="1235.0" cy="214.1" r="9.9"/><circle cx="1216.8" cy="219.8" r="9.9"/><circle cx="1216.8" cy="225.4" r="9.9"/><circle cx="1216.8" cy="231.0" r="9.9"/><circle cx="1216.8" cy="236.6" r="9.9"/><circle cx="1235.0" cy="242.3" r="9.9"/><circle cx="1253.2" cy="247.9" r="9.9"/><circle cx="1253.2" cy="253.5" r="9.9"/><circle cx="1253.2" cy="259.1" r="9.9"/><circle cx="1253.2" cy="264.8" r="9.9"/><circle cx="1253.2" cy="270.4" r="9.9"/><circle cx="1253.2" cy="276.0" r="9.9"/><circle cx="1253.2" cy="281.6" r="9.9"/><circle cx="1235.0" cy="287.3" r="9.9"/><circle cx="1216.8" cy="292.9" r="9.9"/><circle cx="1216.8" cy="298.5" r="9.9"/><circle cx="1216.8" cy="304.1" r="9.9"/><circle cx="1216.8" cy="309.8" r="9.9"/><circle cx="1216.8" cy="315.4" r="9.9"/><circle cx="1216.8" cy="321.0" r="9.9"/><circle cx="1216.8" cy="326.6" r="9.9"/><circle cx="1235.0" cy="332.2" r="9.9"/><circle cx="1253.2" cy="337.9" r="9.9"/><circle cx="1253.2" cy="343.5" r="9.9"/><circle cx="1253.2" cy="349.1" r="9.9"/><circle cx="1235.0" cy="354.7" r="9.9"/><circle cx="1235.0" cy="360.4" r="9.9"/><circle cx="1216.8" cy="366.0" r="9.9"/><circle cx="1216.8" cy="371.6" r="9.9"/><circle cx="1216.8" cy="377.2" r="9.9"/><circle cx="1216.8" cy="382.9" r="9.9"/><circle cx="1216.8" cy="388.5" r="9.9"/><circle cx="1216.8" cy="394.1" r="9.9"/><circle cx="1216.8" cy="399.7" r="9.9"/><circle cx="1216.8" cy="405.4" r="9.9"/><circle cx="1198.6" cy="411.0" r="9.9"/><circle cx="1198.6" cy="416.6" r="9.9"/><circle cx="1198.6" cy="422.2" r="9.9"/><circle cx="1198.6" cy="427.9" r="9.9"/><circle cx="1180.4" cy="433.5" r="9.9"/><circle cx="1180.4" cy="439.1" r="9.9"/><circle cx="1162.2" cy="444.7" r="9.9"/><circle cx="1162.2" cy="450.4" r="9.9"/><circle cx="1162.2" cy="456.0" r="9.9"/><circle cx="1162.2" cy="461.6" r="9.9"/><circle cx="1162.2" cy="467.2" r="9.9"/><circle cx="1162.2" cy="472.8" r="9.9"/><circle cx="1162.2" cy="478.5" r="9.9"/><circle cx="1162.2" cy="484.1" r="9.9"/><circle cx="1144.0" cy="489.7" r="9.9"/><circle cx="1144.0" cy="495.3" r="9.9"/><circle cx="1144.0" cy="501.0" r="9.9"/><circle cx="1125.8" cy="506.6" r="9.9"/><circle cx="1125.8" cy="512.2" r="9.9"/><circle cx="1125.8" cy="517.8" r="9.9"/><circle cx="1125.8" cy="523.5" r="9.9"/><circle cx="1125.8" cy="529.1" r="9.9"/><circle cx="1125.8" cy="534.7" r="9.9"/><circle cx="1125.8" cy="540.3" r="9.9"/><circle cx="1125.8" cy="546.0" r="9.9"/><circle cx="1125.8" cy="551.6" r="9.9"/><circle cx="1125.8" cy="557.2" r="9.9"/><circle cx="1125.8" cy="562.8" r="9.9"/><circle cx="1107.6" cy="568.5" r="9.9"/><circle cx="1089.4" cy="574.1" r="9.9"/><circle cx="379.6" cy="579.7" r="9.9"/><circle cx="379.6" cy="585.3" r="9.9"/><circle cx="379.6" cy="591.0" r="9.9"/><circle cx="1071.2" cy="596.6" r="9.9"/><circle cx="1071.2" cy="602.2" r="9.9"/><circle cx="1034.8" cy="607.8" r="9.9"/><circle cx="1034.8" cy="613.4" r="9.9"/><circle cx="1071.2" cy="619.1" r="9.9"/><circle cx="1071.2" cy="624.7" r="9.9"/><circle cx="1071.2" cy="630.3" r="9.9"/><circle cx="1071.2" cy="635.9" r="9.9"/><circle cx="1071.2" cy="641.6" r="9.9"/><circle cx="1071.2" cy="647.2" r="9.9"/><circle cx="1071.2" cy="652.8" r="9.9"/><circle cx="1071.2" cy="658.4" r="9.9"/><circle cx="1071.2" cy="664.1" r="9.9"/><circle cx="1071.2" cy="669.7" r="9.9"/><circle cx="1034.8" cy="675.3" r="9.9"/><circle cx="1034.8" cy="680.9" r="9.9"/><circle cx="379.6" cy="686.6" r="9.9"/><circle cx="379.6" cy="692.2" r="9.9"/><circle cx="1016.6" cy="697.8" r="9.9"/><circle cx="1016.6" cy="703.4" r="9.9"/><circle cx="1034.8" cy="709.1" r="9.9"/><circle cx="1034.8" cy="714.7" r="9.9"/><circle cx="1034.8" cy="720.3" r="9.9"/><circle cx="1034.8" cy="725.9" r="9.9"/><circle cx="1016.6" cy="731.6" r="9.9"/><circle cx="1016.6" cy="737.2" r="9.9"/><circle cx="1016.6" cy="742.8" r="9.9"/><circle cx="1016.6" cy="748.4" r="9.9"/><circle cx="1016.6" cy="754.0" r="9.9"/><circle cx="1016.6" cy="759.7" r="9.9"/><circle cx="1016.6" cy="765.3" r="9.9"/><circle cx="1016.6" cy="770.9" r="9.9"/><circle cx="998.4" cy="776.5" r="9.9"/><circle cx="379.6" cy="782.2" r="9.9"/><circle cx="379.6" cy="787.8" r="9.9"/><circle cx="980.2" cy="793.4" r="9.9"/><circle cx="980.2" cy="799.0" r="9.9"/><circle cx="998.4" cy="804.7" r="9.9"/><circle cx="998.4" cy="810.3" r="9.9"/><circle cx="980.2" cy="815.9" r="9.9"/><circle cx="379.6" cy="821.5" r="9.9"/><circle cx="379.6" cy="827.2" r="9.9"/><circle cx="379.6" cy="832.8" r="9.9"/><circle cx="379.6" cy="838.4" r="9.9"/><circle cx="379.6" cy="844.0" r="9.9"/><circle cx="962.0" cy="849.7" r="9.9"/><circle cx="962.0" cy="855.3" r="9.9"/><circle cx="379.6" cy="860.9" r="9.9"/><circle cx="379.6" cy="866.5" r="9.9"/>
</g>
<text class="num" text-anchor="end" x="313.9" y="59.1">0</text>
<text class="num" text-anchor="end" x="313.9" y="340.3">50</text>
<text class="num" text-anchor="end" x="313.9" y="621.5">100</text>
<text class="num" text-anchor="end" x="313.9" y="902.7">150</text>
<text class="num" text-anchor="middle" x="361.4" y="976.8">0</text>
<text class="num" text-anchor="middle" x="543.4" y="976.8">10</text>
<text class="num" text-anchor="middle" x="725.4" y="976.8">20</text>
<text class="num" text-anchor="middle" x="907.4" y="976.8">30</text>
<text class="num" text-anchor="middle" x="1089.4" y="976.8">40</text>
<text class="num" text-anchor="middle" x="1271.4" y="976.8">50</text>
<text class="num" text-anchor="middle" x="1453.4" y="976.8">60</text>
<text class="cjk" y="1078"><tspan x="913.6" letter-spacing="-1.2">高度向</tspan> <tspan x="1136" y="1077" font-size="74.7">(</tspan><tspan x="1161" y="1077" font-size="68">m</tspan><tspan x="1215" y="1077" font-size="74.7">)</tspan></text>
<text class="cjk" transform="rotate(-90)" y="155"><tspan x="-700" letter-spacing="0.5">距离向</tspan> <tspan x="-473" y="154" font-size="74.7">(</tspan><tspan x="-448" y="155" letter-spacing="0">像素点</tspan><tspan x="-251" y="154" font-size="74.7">)</tspan></text>
<circle cx="929.1" cy="1171.4" r="14.9" fill="#808080"/>
<text class="cjk" x="973.8" y="1190.6" font-size="66.3">峰值位置</text>
</svg>
</body></html>
